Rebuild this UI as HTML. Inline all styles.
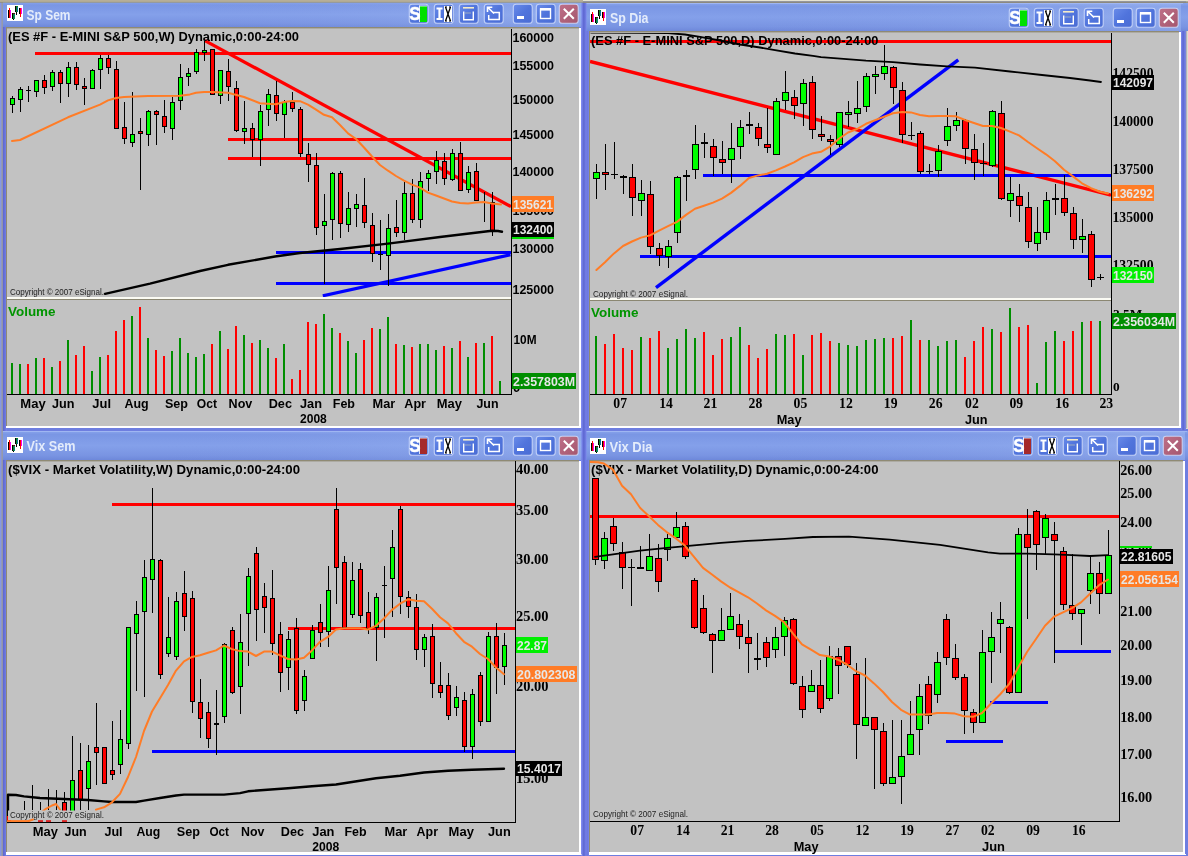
<!DOCTYPE html><html><head><meta charset="utf-8"><title>charts</title>
<style>html,body{margin:0;padding:0;background:#d6d2c6;overflow:hidden}svg{display:block;will-change:transform;transform:translateZ(0)}</style></head><body>
<svg width="1188" height="856" viewBox="0 0 1188 856">
<defs>
<linearGradient id="tb" x1="0" y1="0" x2="0" y2="1">
<stop offset="0" stop-color="#88a4ec"/><stop offset="0.12" stop-color="#7a96e4"/><stop offset="0.5" stop-color="#84a0ea"/><stop offset="0.85" stop-color="#7994e2"/><stop offset="1" stop-color="#6e88da"/>
</linearGradient>
<linearGradient id="tbh" x1="0" y1="0" x2="1" y2="0">
<stop offset="0" stop-color="#7f98e6" stop-opacity="0.0"/><stop offset="1" stop-color="#a8c0f4" stop-opacity="0.42"/>
</linearGradient>
<linearGradient id="btn" x1="0" y1="0" x2="1" y2="1">
<stop offset="0" stop-color="#6a8cea"/><stop offset="0.5" stop-color="#5074dc"/><stop offset="1" stop-color="#4a6cd4"/>
</linearGradient>
<linearGradient id="cls" x1="0" y1="0" x2="1" y2="1">
<stop offset="0" stop-color="#bf7088"/><stop offset="1" stop-color="#a4566e"/>
</linearGradient>
<linearGradient id="bv" x1="0" y1="0" x2="1" y2="0">
<stop offset="0" stop-color="#808cf0"/><stop offset="0.45" stop-color="#5c66d0"/><stop offset="1" stop-color="#7a86ec"/>
</linearGradient>
</defs>
<rect x="0" y="0" width="1188" height="856" fill="#6e7ee0" />
<rect x="1186" y="0" width="2" height="429" fill="#dcdad0" />
<rect x="1185.6" y="5" width="0.9" height="423" fill="#8c8c9c" />
<rect x="581" y="27" width="8.5" height="829" fill="url(#bv)" />
<rect x="0" y="0" width="7" height="856" fill="url(#bv)" />
<rect x="1181" y="30" width="4.6" height="400" fill="url(#bv)" />
<rect x="0" y="2" width="586" height="25" fill="url(#tb)" />
<rect x="157" y="2" width="424" height="25" fill="url(#tbh)" />
<rect x="3" y="2" width="580" height="1" fill="#9fb6f2" />
<g shape-rendering="crispEdges" transform="translate(7,5)">
<rect x="0" y="0" width="16" height="16" fill="#fff" />
<rect x="1" y="5" width="1" height="8" fill="#000" />
<rect x="2" y="3" width="1" height="10" fill="#f00" />
<rect x="3" y="5" width="1" height="8" fill="#f0e" />
<rect x="5" y="8" width="1" height="6" fill="#000" />
<rect x="6" y="8" width="2" height="6" fill="#0a8030" />
<rect x="7" y="9" width="1" height="5" fill="#088070" />
<rect x="6" y="8" width="2" height="1" fill="#601010" />
<rect x="6" y="14" width="1" height="1" fill="#000" />
<rect x="8" y="1" width="1" height="6" fill="#000" />
<rect x="9" y="1" width="2" height="6" fill="#0a8028" />
<rect x="10" y="2" width="1" height="5" fill="#0870a0" />
<rect x="9" y="7" width="1" height="3" fill="#000" />
<rect x="12" y="3" width="1" height="6" fill="#000" />
<rect x="13" y="3" width="1" height="9" fill="#f00" />
<rect x="14" y="3" width="1" height="6" fill="#f0e" />
</g>
<text x="26.5" y="19.5" font-family="Liberation Sans, sans-serif" font-size="14" font-weight="bold" fill="#e4ecfb" text-anchor="start" textLength="44" lengthAdjust="spacingAndGlyphs" >Sp Sem</text>
<rect x="409.3" y="4.3" width="18.9" height="18.9" rx="2.8" ry="2.8" fill="url(#btn)" stroke="#d4e0fb" stroke-opacity="0.8" stroke-width="1.1"/>
<rect x="420" y="6" width="7" height="16" fill="#00e000" shape-rendering="crispEdges"/>
<rect x="419" y="5.5" width="1" height="16.5" fill="#fff" opacity="0.8"/>
<rect x="419" y="5.5" width="8" height="1" fill="#fff" opacity="0.8"/>
<text x="409.2" y="20" font-family="Liberation Sans, sans-serif" font-size="18.6" font-weight="bold" fill="#fff" text-anchor="start" textLength="11.3" lengthAdjust="spacingAndGlyphs" stroke="#fff" stroke-width="0.5">S</text>
<rect x="434.3" y="4.3" width="18.9" height="18.9" rx="2.8" ry="2.8" fill="url(#btn)" stroke="#d4e0fb" stroke-opacity="0.8" stroke-width="1.1"/>
<rect x="444" y="6" width="8" height="16" fill="#fff" shape-rendering="crispEdges"/>
<path d="M445.5,7 L450.5,21 M450.5,7 L445.5,21" stroke="#000" stroke-width="1.3" fill="none"/>
<path d="M445,7h2 M449,7h2 M445,21h2 M449,21h2" stroke="#000" stroke-width="1"/>
<path d="M436.5,8.5h6 M436.5,19h6 M439.5,8v11" stroke="#fff" stroke-width="2.2" fill="none"/>
<rect x="459.3" y="4.3" width="18.9" height="18.9" rx="2.8" ry="2.8" fill="url(#btn)" stroke="#d4e0fb" stroke-opacity="0.8" stroke-width="1.1"/>
<path d="M463,7.8h11" stroke="#f4ecc8" stroke-width="1.6" fill="none"/>
<path d="M463.7,11.5v8.3h9.6v-8.3" stroke="#fff" stroke-width="1.4" fill="none"/>
<path d="M465.5,13h6" stroke="#e8e0a0" stroke-width="1" stroke-dasharray="1,1" fill="none"/>
<rect x="484.3" y="4.3" width="18.9" height="18.9" rx="2.8" ry="2.8" fill="url(#btn)" stroke="#d4e0fb" stroke-opacity="0.8" stroke-width="1.1"/>
<path d="M493,12.5h6.3v7h-10.6v-4.5" stroke="#fff" stroke-width="1.5" fill="none"/>
<path d="M488,7.5l6,6 M487.5,12v-4.8h4.8" stroke="#fff" stroke-width="1.6" fill="none"/>
<rect x="513.3" y="4.3" width="18.9" height="18.9" rx="2.8" ry="2.8" fill="url(#btn)" stroke="#d4e0fb" stroke-opacity="0.8" stroke-width="1.1"/>
<rect x="517" y="16" width="7" height="3" fill="#fff" />
<rect x="536.3" y="4.3" width="18.9" height="18.9" rx="2.8" ry="2.8" fill="url(#btn)" stroke="#d4e0fb" stroke-opacity="0.8" stroke-width="1.1"/>
<rect x="540.5" y="9" width="10" height="9.5" fill="none" stroke="#fff" stroke-width="1.4"/>
<rect x="540" y="8" width="11" height="2.6" fill="#fff" />
<rect x="559.3" y="4.3" width="18.9" height="18.9" rx="2.8" ry="2.8" fill="url(#cls)" stroke="#d4e0fb" stroke-opacity="0.8" stroke-width="1.1"/>
<path d="M563.8,8.8l10,10 M573.8,8.8l-10,10" stroke="#fff" stroke-width="2" stroke-linecap="butt" fill="none"/>
<rect x="6" y="28" width="575" height="400" fill="#fff" />
<rect x="6" y="27" width="573" height="399" fill="#8f8a74" />
<rect x="7" y="28.4" width="572" height="397.6" fill="#c2c2c2" />
<rect x="585" y="3" width="603" height="28" fill="url(#tb)" />
<rect x="740" y="3" width="441" height="28" fill="url(#tbh)" />
<rect x="586" y="3" width="597" height="1" fill="#9fb6f2" />
<g shape-rendering="crispEdges" transform="translate(590,9)">
<rect x="0" y="0" width="16" height="16" fill="#fff" />
<rect x="1" y="5" width="1" height="8" fill="#000" />
<rect x="2" y="3" width="1" height="10" fill="#f00" />
<rect x="3" y="5" width="1" height="8" fill="#f0e" />
<rect x="5" y="8" width="1" height="6" fill="#000" />
<rect x="6" y="8" width="2" height="6" fill="#0a8030" />
<rect x="7" y="9" width="1" height="5" fill="#088070" />
<rect x="6" y="8" width="2" height="1" fill="#601010" />
<rect x="6" y="14" width="1" height="1" fill="#000" />
<rect x="8" y="1" width="1" height="6" fill="#000" />
<rect x="9" y="1" width="2" height="6" fill="#0a8028" />
<rect x="10" y="2" width="1" height="5" fill="#0870a0" />
<rect x="9" y="7" width="1" height="3" fill="#000" />
<rect x="12" y="3" width="1" height="6" fill="#000" />
<rect x="13" y="3" width="1" height="9" fill="#f00" />
<rect x="14" y="3" width="1" height="6" fill="#f0e" />
</g>
<text x="610" y="22.8" font-family="Liberation Sans, sans-serif" font-size="14" font-weight="bold" fill="#e4ecfb" text-anchor="start" textLength="38.5" lengthAdjust="spacingAndGlyphs" >Sp Dia</text>
<rect x="1009.3" y="8.3" width="18.9" height="18.9" rx="2.8" ry="2.8" fill="url(#btn)" stroke="#d4e0fb" stroke-opacity="0.8" stroke-width="1.1"/>
<rect x="1020" y="10" width="7" height="16" fill="#00e000" shape-rendering="crispEdges"/>
<rect x="1019" y="9.5" width="1" height="16.5" fill="#fff" opacity="0.8"/>
<rect x="1019" y="9.5" width="8" height="1" fill="#fff" opacity="0.8"/>
<text x="1009.2" y="24" font-family="Liberation Sans, sans-serif" font-size="18.6" font-weight="bold" fill="#fff" text-anchor="start" textLength="11.3" lengthAdjust="spacingAndGlyphs" stroke="#fff" stroke-width="0.5">S</text>
<rect x="1034.3" y="8.3" width="18.9" height="18.9" rx="2.8" ry="2.8" fill="url(#btn)" stroke="#d4e0fb" stroke-opacity="0.8" stroke-width="1.1"/>
<rect x="1044" y="10" width="8" height="16" fill="#fff" shape-rendering="crispEdges"/>
<path d="M1045.5,11 L1050.5,25 M1050.5,11 L1045.5,25" stroke="#000" stroke-width="1.3" fill="none"/>
<path d="M1045,11h2 M1049,11h2 M1045,25h2 M1049,25h2" stroke="#000" stroke-width="1"/>
<path d="M1036.5,12.5h6 M1036.5,23h6 M1039.5,12v11" stroke="#fff" stroke-width="2.2" fill="none"/>
<rect x="1059.3" y="8.3" width="18.9" height="18.9" rx="2.8" ry="2.8" fill="url(#btn)" stroke="#d4e0fb" stroke-opacity="0.8" stroke-width="1.1"/>
<path d="M1063,11.8h11" stroke="#f4ecc8" stroke-width="1.6" fill="none"/>
<path d="M1063.7,15.5v8.3h9.6v-8.3" stroke="#fff" stroke-width="1.4" fill="none"/>
<path d="M1065.5,17h6" stroke="#e8e0a0" stroke-width="1" stroke-dasharray="1,1" fill="none"/>
<rect x="1084.3" y="8.3" width="18.9" height="18.9" rx="2.8" ry="2.8" fill="url(#btn)" stroke="#d4e0fb" stroke-opacity="0.8" stroke-width="1.1"/>
<path d="M1093,16.5h6.3v7h-10.6v-4.5" stroke="#fff" stroke-width="1.5" fill="none"/>
<path d="M1088,11.5l6,6 M1087.5,16v-4.8h4.8" stroke="#fff" stroke-width="1.6" fill="none"/>
<rect x="1113.3" y="8.3" width="18.9" height="18.9" rx="2.8" ry="2.8" fill="url(#btn)" stroke="#d4e0fb" stroke-opacity="0.8" stroke-width="1.1"/>
<rect x="1117" y="20" width="7" height="3" fill="#fff" />
<rect x="1136.3" y="8.3" width="18.9" height="18.9" rx="2.8" ry="2.8" fill="url(#btn)" stroke="#d4e0fb" stroke-opacity="0.8" stroke-width="1.1"/>
<rect x="1140.5" y="13" width="10" height="9.5" fill="none" stroke="#fff" stroke-width="1.4"/>
<rect x="1140" y="12" width="11" height="2.6" fill="#fff" />
<rect x="1159.3" y="8.3" width="18.9" height="18.9" rx="2.8" ry="2.8" fill="url(#cls)" stroke="#d4e0fb" stroke-opacity="0.8" stroke-width="1.1"/>
<path d="M1163.8,12.8l10,10 M1173.8,12.8l-10,10" stroke="#fff" stroke-width="2" stroke-linecap="butt" fill="none"/>
<rect x="589" y="32" width="592" height="396" fill="#fff" />
<rect x="589" y="31" width="590" height="395" fill="#8f8a74" />
<rect x="590" y="32.4" width="589" height="393.6" fill="#c2c2c2" />
<rect x="0" y="431" width="586" height="29" fill="url(#tb)" />
<rect x="157" y="431" width="424" height="29" fill="url(#tbh)" />
<rect x="3" y="431" width="580" height="1" fill="#9fb6f2" />
<g shape-rendering="crispEdges" transform="translate(7,437)">
<rect x="0" y="0" width="16" height="16" fill="#fff" />
<rect x="1" y="5" width="1" height="8" fill="#000" />
<rect x="2" y="3" width="1" height="10" fill="#f00" />
<rect x="3" y="5" width="1" height="8" fill="#f0e" />
<rect x="5" y="8" width="1" height="6" fill="#000" />
<rect x="6" y="8" width="2" height="6" fill="#0a8030" />
<rect x="7" y="9" width="1" height="5" fill="#088070" />
<rect x="6" y="8" width="2" height="1" fill="#601010" />
<rect x="6" y="14" width="1" height="1" fill="#000" />
<rect x="8" y="1" width="1" height="6" fill="#000" />
<rect x="9" y="1" width="2" height="6" fill="#0a8028" />
<rect x="10" y="2" width="1" height="5" fill="#0870a0" />
<rect x="9" y="7" width="1" height="3" fill="#000" />
<rect x="12" y="3" width="1" height="6" fill="#000" />
<rect x="13" y="3" width="1" height="9" fill="#f00" />
<rect x="14" y="3" width="1" height="6" fill="#f0e" />
</g>
<text x="26.5" y="451" font-family="Liberation Sans, sans-serif" font-size="14" font-weight="bold" fill="#e4ecfb" text-anchor="start" textLength="49" lengthAdjust="spacingAndGlyphs" >Vix Sem</text>
<rect x="409.3" y="436.3" width="18.9" height="18.9" rx="2.8" ry="2.8" fill="url(#btn)" stroke="#d4e0fb" stroke-opacity="0.8" stroke-width="1.1"/>
<rect x="420" y="438" width="7" height="16" fill="#a52a2a" shape-rendering="crispEdges"/>
<rect x="419" y="437.5" width="1" height="16.5" fill="#fff" opacity="0.8"/>
<rect x="419" y="437.5" width="8" height="1" fill="#fff" opacity="0.8"/>
<text x="409.2" y="452" font-family="Liberation Sans, sans-serif" font-size="18.6" font-weight="bold" fill="#fff" text-anchor="start" textLength="11.3" lengthAdjust="spacingAndGlyphs" stroke="#fff" stroke-width="0.5">S</text>
<rect x="434.3" y="436.3" width="18.9" height="18.9" rx="2.8" ry="2.8" fill="url(#btn)" stroke="#d4e0fb" stroke-opacity="0.8" stroke-width="1.1"/>
<rect x="444" y="438" width="8" height="16" fill="#fff" shape-rendering="crispEdges"/>
<path d="M445.5,439 L450.5,453 M450.5,439 L445.5,453" stroke="#000" stroke-width="1.3" fill="none"/>
<path d="M445,439h2 M449,439h2 M445,453h2 M449,453h2" stroke="#000" stroke-width="1"/>
<path d="M436.5,440.5h6 M436.5,451h6 M439.5,440v11" stroke="#fff" stroke-width="2.2" fill="none"/>
<rect x="459.3" y="436.3" width="18.9" height="18.9" rx="2.8" ry="2.8" fill="url(#btn)" stroke="#d4e0fb" stroke-opacity="0.8" stroke-width="1.1"/>
<path d="M463,439.8h11" stroke="#f4ecc8" stroke-width="1.6" fill="none"/>
<path d="M463.7,443.5v8.3h9.6v-8.3" stroke="#fff" stroke-width="1.4" fill="none"/>
<path d="M465.5,445h6" stroke="#e8e0a0" stroke-width="1" stroke-dasharray="1,1" fill="none"/>
<rect x="484.3" y="436.3" width="18.9" height="18.9" rx="2.8" ry="2.8" fill="url(#btn)" stroke="#d4e0fb" stroke-opacity="0.8" stroke-width="1.1"/>
<path d="M493,444.5h6.3v7h-10.6v-4.5" stroke="#fff" stroke-width="1.5" fill="none"/>
<path d="M488,439.5l6,6 M487.5,444v-4.8h4.8" stroke="#fff" stroke-width="1.6" fill="none"/>
<rect x="513.3" y="436.3" width="18.9" height="18.9" rx="2.8" ry="2.8" fill="url(#btn)" stroke="#d4e0fb" stroke-opacity="0.8" stroke-width="1.1"/>
<rect x="517" y="448" width="7" height="3" fill="#fff" />
<rect x="536.3" y="436.3" width="18.9" height="18.9" rx="2.8" ry="2.8" fill="url(#btn)" stroke="#d4e0fb" stroke-opacity="0.8" stroke-width="1.1"/>
<rect x="540.5" y="441" width="10" height="9.5" fill="none" stroke="#fff" stroke-width="1.4"/>
<rect x="540" y="440" width="11" height="2.6" fill="#fff" />
<rect x="559.3" y="436.3" width="18.9" height="18.9" rx="2.8" ry="2.8" fill="url(#cls)" stroke="#d4e0fb" stroke-opacity="0.8" stroke-width="1.1"/>
<path d="M563.8,440.8l10,10 M573.8,440.8l-10,10" stroke="#fff" stroke-width="2" stroke-linecap="butt" fill="none"/>
<rect x="6" y="461" width="575" height="393" fill="#fff" />
<rect x="6" y="460" width="573" height="392" fill="#8f8a74" />
<rect x="7" y="461.4" width="572" height="390.6" fill="#c2c2c2" />
<rect x="585" y="431" width="607" height="29" fill="url(#tb)" />
<rect x="740" y="431" width="445" height="29" fill="url(#tbh)" />
<rect x="586" y="431" width="601" height="1" fill="#9fb6f2" />
<g shape-rendering="crispEdges" transform="translate(590,438)">
<rect x="0" y="0" width="16" height="16" fill="#fff" />
<rect x="1" y="5" width="1" height="8" fill="#000" />
<rect x="2" y="3" width="1" height="10" fill="#f00" />
<rect x="3" y="5" width="1" height="8" fill="#f0e" />
<rect x="5" y="8" width="1" height="6" fill="#000" />
<rect x="6" y="8" width="2" height="6" fill="#0a8030" />
<rect x="7" y="9" width="1" height="5" fill="#088070" />
<rect x="6" y="8" width="2" height="1" fill="#601010" />
<rect x="6" y="14" width="1" height="1" fill="#000" />
<rect x="8" y="1" width="1" height="6" fill="#000" />
<rect x="9" y="1" width="2" height="6" fill="#0a8028" />
<rect x="10" y="2" width="1" height="5" fill="#0870a0" />
<rect x="9" y="7" width="1" height="3" fill="#000" />
<rect x="12" y="3" width="1" height="6" fill="#000" />
<rect x="13" y="3" width="1" height="9" fill="#f00" />
<rect x="14" y="3" width="1" height="6" fill="#f0e" />
</g>
<text x="609.5" y="452" font-family="Liberation Sans, sans-serif" font-size="14" font-weight="bold" fill="#e4ecfb" text-anchor="start" textLength="43" lengthAdjust="spacingAndGlyphs" >Vix Dia</text>
<rect x="1013.3" y="436.3" width="18.9" height="18.9" rx="2.8" ry="2.8" fill="url(#btn)" stroke="#d4e0fb" stroke-opacity="0.8" stroke-width="1.1"/>
<rect x="1024" y="438" width="7" height="16" fill="#a52a2a" shape-rendering="crispEdges"/>
<rect x="1023" y="437.5" width="1" height="16.5" fill="#fff" opacity="0.8"/>
<rect x="1023" y="437.5" width="8" height="1" fill="#fff" opacity="0.8"/>
<text x="1013.2" y="452" font-family="Liberation Sans, sans-serif" font-size="18.6" font-weight="bold" fill="#fff" text-anchor="start" textLength="11.3" lengthAdjust="spacingAndGlyphs" stroke="#fff" stroke-width="0.5">S</text>
<rect x="1038.3" y="436.3" width="18.9" height="18.9" rx="2.8" ry="2.8" fill="url(#btn)" stroke="#d4e0fb" stroke-opacity="0.8" stroke-width="1.1"/>
<rect x="1048" y="438" width="8" height="16" fill="#fff" shape-rendering="crispEdges"/>
<path d="M1049.5,439 L1054.5,453 M1054.5,439 L1049.5,453" stroke="#000" stroke-width="1.3" fill="none"/>
<path d="M1049,439h2 M1053,439h2 M1049,453h2 M1053,453h2" stroke="#000" stroke-width="1"/>
<path d="M1040.5,440.5h6 M1040.5,451h6 M1043.5,440v11" stroke="#fff" stroke-width="2.2" fill="none"/>
<rect x="1063.3" y="436.3" width="18.9" height="18.9" rx="2.8" ry="2.8" fill="url(#btn)" stroke="#d4e0fb" stroke-opacity="0.8" stroke-width="1.1"/>
<path d="M1067,439.8h11" stroke="#f4ecc8" stroke-width="1.6" fill="none"/>
<path d="M1067.7,443.5v8.3h9.6v-8.3" stroke="#fff" stroke-width="1.4" fill="none"/>
<path d="M1069.5,445h6" stroke="#e8e0a0" stroke-width="1" stroke-dasharray="1,1" fill="none"/>
<rect x="1088.3" y="436.3" width="18.9" height="18.9" rx="2.8" ry="2.8" fill="url(#btn)" stroke="#d4e0fb" stroke-opacity="0.8" stroke-width="1.1"/>
<path d="M1097,444.5h6.3v7h-10.6v-4.5" stroke="#fff" stroke-width="1.5" fill="none"/>
<path d="M1092,439.5l6,6 M1091.5,444v-4.8h4.8" stroke="#fff" stroke-width="1.6" fill="none"/>
<rect x="1117.3" y="436.3" width="18.9" height="18.9" rx="2.8" ry="2.8" fill="url(#btn)" stroke="#d4e0fb" stroke-opacity="0.8" stroke-width="1.1"/>
<rect x="1121" y="448" width="7" height="3" fill="#fff" />
<rect x="1140.3" y="436.3" width="18.9" height="18.9" rx="2.8" ry="2.8" fill="url(#btn)" stroke="#d4e0fb" stroke-opacity="0.8" stroke-width="1.1"/>
<rect x="1144.5" y="441" width="10" height="9.5" fill="none" stroke="#fff" stroke-width="1.4"/>
<rect x="1144" y="440" width="11" height="2.6" fill="#fff" />
<rect x="1163.3" y="436.3" width="18.9" height="18.9" rx="2.8" ry="2.8" fill="url(#cls)" stroke="#d4e0fb" stroke-opacity="0.8" stroke-width="1.1"/>
<path d="M1167.8,440.8l10,10 M1177.8,440.8l-10,10" stroke="#fff" stroke-width="2" stroke-linecap="butt" fill="none"/>
<rect x="589" y="461" width="596" height="393" fill="#fff" />
<rect x="589" y="460" width="594" height="392" fill="#8f8a74" />
<rect x="590" y="461.4" width="593" height="390.6" fill="#c2c2c2" />
<g id="tl">
<rect x="7" y="297" width="504" height="2" fill="#fbfbf4" shape-rendering="crispEdges"/>
<rect x="7" y="299" width="504" height="1" fill="#8b8772" shape-rendering="crispEdges"/>
<rect x="35" y="52" width="476" height="3" fill="#ff0000" shape-rendering="crispEdges"/>
<rect x="228" y="138" width="283" height="3" fill="#ff0000" shape-rendering="crispEdges"/>
<rect x="228" y="157" width="283" height="3" fill="#ff0000" shape-rendering="crispEdges"/>
<rect x="276" y="251" width="235" height="3" fill="#0000ff" shape-rendering="crispEdges"/>
<rect x="276" y="282" width="235" height="3" fill="#0000ff" shape-rendering="crispEdges"/>
<clipPath id="ctl"><rect x="7" y="29" width="504" height="268"/></clipPath>
<line x1="322.8" y1="295.8" x2="510.5" y2="254.7" stroke="#0000ff" stroke-width="3.2" clip-path="url(#ctl)"/>
<line x1="204.9" y1="40.6" x2="511" y2="206.6" stroke="#ff0000" stroke-width="3.3" clip-path="url(#ctl)"/>
<g shape-rendering="crispEdges">
<rect x="12" y="96" width="1" height="17" fill="#000" />
<rect x="10" y="98" width="5" height="7" fill="#000" />
<rect x="11" y="99" width="3" height="5" fill="#00ff00" />
<rect x="20" y="87" width="1" height="25" fill="#000" />
<rect x="18" y="89" width="5" height="11" fill="#000" />
<rect x="19" y="90" width="3" height="9" fill="#00ff00" />
<rect x="28" y="86" width="1" height="16" fill="#000" />
<rect x="26" y="90" width="5" height="1" fill="#000" />
<rect x="36" y="80" width="1" height="17" fill="#000" />
<rect x="34" y="80" width="5" height="12" fill="#000" />
<rect x="35" y="81" width="3" height="10" fill="#00ff00" />
<rect x="44" y="75" width="1" height="19" fill="#000" />
<rect x="42" y="80" width="5" height="8" fill="#000" />
<rect x="43" y="81" width="3" height="6" fill="#ff0000" />
<rect x="52" y="70" width="1" height="21" fill="#000" />
<rect x="50" y="72" width="5" height="15" fill="#000" />
<rect x="51" y="73" width="3" height="13" fill="#00ff00" />
<rect x="60" y="70" width="1" height="33" fill="#000" />
<rect x="58" y="72" width="5" height="12" fill="#000" />
<rect x="59" y="73" width="3" height="10" fill="#ff0000" />
<rect x="68" y="62" width="1" height="35" fill="#000" />
<rect x="66" y="67" width="5" height="17" fill="#000" />
<rect x="67" y="68" width="3" height="15" fill="#00ff00" />
<rect x="76" y="62" width="1" height="28" fill="#000" />
<rect x="74" y="67" width="5" height="18" fill="#000" />
<rect x="75" y="68" width="3" height="16" fill="#ff0000" />
<rect x="84" y="78" width="1" height="27" fill="#000" />
<rect x="82" y="86" width="5" height="3" fill="#000" />
<rect x="83" y="87" width="3" height="1" fill="#ff0000" />
<rect x="92" y="69" width="1" height="19" fill="#000" />
<rect x="90" y="70" width="5" height="19" fill="#000" />
<rect x="91" y="71" width="3" height="17" fill="#00ff00" />
<rect x="100" y="55" width="1" height="34" fill="#000" />
<rect x="98" y="58" width="5" height="12" fill="#000" />
<rect x="99" y="59" width="3" height="10" fill="#00ff00" />
<rect x="108" y="55" width="1" height="19" fill="#000" />
<rect x="106" y="58" width="5" height="10" fill="#000" />
<rect x="107" y="59" width="3" height="8" fill="#ff0000" />
<rect x="116" y="61" width="1" height="67" fill="#000" />
<rect x="114" y="69" width="5" height="60" fill="#000" />
<rect x="115" y="70" width="3" height="58" fill="#ff0000" />
<rect x="124" y="102" width="1" height="42" fill="#000" />
<rect x="122" y="127" width="5" height="12" fill="#000" />
<rect x="123" y="128" width="3" height="10" fill="#ff0000" />
<rect x="132" y="92" width="1" height="55" fill="#000" />
<rect x="130" y="134" width="5" height="9" fill="#000" />
<rect x="131" y="135" width="3" height="7" fill="#00ff00" />
<rect x="140" y="118" width="1" height="72" fill="#000" />
<rect x="138" y="131" width="5" height="3" fill="#000" />
<rect x="139" y="132" width="3" height="1" fill="#ff0000" />
<rect x="148" y="110" width="1" height="36" fill="#000" />
<rect x="146" y="111" width="5" height="24" fill="#000" />
<rect x="147" y="112" width="3" height="22" fill="#00ff00" />
<rect x="156" y="110" width="1" height="35" fill="#000" />
<rect x="154" y="111" width="5" height="4" fill="#000" />
<rect x="155" y="112" width="3" height="2" fill="#ff0000" />
<rect x="164" y="100" width="1" height="33" fill="#000" />
<rect x="162" y="116" width="5" height="11" fill="#000" />
<rect x="163" y="117" width="3" height="9" fill="#ff0000" />
<rect x="172" y="97" width="1" height="43" fill="#000" />
<rect x="170" y="102" width="5" height="27" fill="#000" />
<rect x="171" y="103" width="3" height="25" fill="#00ff00" />
<rect x="180" y="64" width="1" height="46" fill="#000" />
<rect x="178" y="77" width="5" height="24" fill="#000" />
<rect x="179" y="78" width="3" height="22" fill="#00ff00" />
<rect x="188" y="68" width="1" height="18" fill="#000" />
<rect x="186" y="73" width="5" height="4" fill="#000" />
<rect x="187" y="74" width="3" height="2" fill="#00ff00" />
<rect x="196" y="49" width="1" height="25" fill="#000" />
<rect x="194" y="52" width="5" height="20" fill="#000" />
<rect x="195" y="53" width="3" height="18" fill="#00ff00" />
<rect x="204" y="41" width="1" height="20" fill="#000" />
<rect x="202" y="50" width="5" height="3" fill="#000" />
<rect x="203" y="51" width="3" height="1" fill="#00ff00" />
<rect x="212" y="49" width="1" height="46" fill="#000" />
<rect x="210" y="49" width="5" height="46" fill="#000" />
<rect x="211" y="50" width="3" height="44" fill="#ff0000" />
<rect x="220" y="70" width="1" height="34" fill="#000" />
<rect x="218" y="70" width="5" height="26" fill="#000" />
<rect x="219" y="71" width="3" height="24" fill="#00ff00" />
<rect x="228" y="59" width="1" height="42" fill="#000" />
<rect x="226" y="71" width="5" height="16" fill="#000" />
<rect x="227" y="72" width="3" height="14" fill="#ff0000" />
<rect x="236" y="81" width="1" height="51" fill="#000" />
<rect x="234" y="88" width="5" height="43" fill="#000" />
<rect x="235" y="89" width="3" height="41" fill="#ff0000" />
<rect x="244" y="101" width="1" height="43" fill="#000" />
<rect x="242" y="128" width="5" height="4" fill="#000" />
<rect x="243" y="129" width="3" height="2" fill="#00ff00" />
<rect x="252" y="123" width="1" height="34" fill="#000" />
<rect x="250" y="128" width="5" height="12" fill="#000" />
<rect x="251" y="129" width="3" height="10" fill="#ff0000" />
<rect x="260" y="105" width="1" height="61" fill="#000" />
<rect x="258" y="111" width="5" height="29" fill="#000" />
<rect x="259" y="112" width="3" height="27" fill="#00ff00" />
<rect x="268" y="89" width="1" height="37" fill="#000" />
<rect x="266" y="94" width="5" height="16" fill="#000" />
<rect x="267" y="95" width="3" height="14" fill="#00ff00" />
<rect x="276" y="81" width="1" height="40" fill="#000" />
<rect x="274" y="95" width="5" height="19" fill="#000" />
<rect x="275" y="96" width="3" height="17" fill="#ff0000" />
<rect x="284" y="100" width="1" height="38" fill="#000" />
<rect x="282" y="102" width="5" height="13" fill="#000" />
<rect x="283" y="103" width="3" height="11" fill="#00ff00" />
<rect x="292" y="92" width="1" height="20" fill="#000" />
<rect x="290" y="102" width="5" height="7" fill="#000" />
<rect x="291" y="103" width="3" height="5" fill="#ff0000" />
<rect x="300" y="107" width="1" height="50" fill="#000" />
<rect x="298" y="109" width="5" height="45" fill="#000" />
<rect x="299" y="110" width="3" height="43" fill="#ff0000" />
<rect x="308" y="143" width="1" height="39" fill="#000" />
<rect x="306" y="154" width="5" height="11" fill="#000" />
<rect x="307" y="155" width="3" height="9" fill="#ff0000" />
<rect x="316" y="153" width="1" height="82" fill="#000" />
<rect x="314" y="165" width="5" height="63" fill="#000" />
<rect x="315" y="166" width="3" height="61" fill="#ff0000" />
<rect x="324" y="194" width="1" height="90" fill="#000" />
<rect x="322" y="221" width="5" height="5" fill="#000" />
<rect x="323" y="222" width="3" height="3" fill="#00ff00" />
<rect x="332" y="172" width="1" height="68" fill="#000" />
<rect x="330" y="173" width="5" height="47" fill="#000" />
<rect x="331" y="174" width="3" height="45" fill="#00ff00" />
<rect x="340" y="171" width="1" height="67" fill="#000" />
<rect x="338" y="173" width="5" height="51" fill="#000" />
<rect x="339" y="174" width="3" height="49" fill="#ff0000" />
<rect x="348" y="192" width="1" height="40" fill="#000" />
<rect x="346" y="208" width="5" height="17" fill="#000" />
<rect x="347" y="209" width="3" height="15" fill="#00ff00" />
<rect x="356" y="194" width="1" height="33" fill="#000" />
<rect x="354" y="204" width="5" height="5" fill="#000" />
<rect x="355" y="205" width="3" height="3" fill="#00ff00" />
<rect x="364" y="178" width="1" height="50" fill="#000" />
<rect x="362" y="205" width="5" height="18" fill="#000" />
<rect x="363" y="206" width="3" height="16" fill="#ff0000" />
<rect x="372" y="213" width="1" height="49" fill="#000" />
<rect x="370" y="225" width="5" height="29" fill="#000" />
<rect x="371" y="226" width="3" height="27" fill="#ff0000" />
<rect x="380" y="220" width="1" height="50" fill="#000" />
<rect x="378" y="254" width="5" height="1" fill="#000" />
<rect x="388" y="214" width="1" height="72" fill="#000" />
<rect x="386" y="228" width="5" height="28" fill="#000" />
<rect x="387" y="229" width="3" height="26" fill="#00ff00" />
<rect x="396" y="200" width="1" height="37" fill="#000" />
<rect x="394" y="227" width="5" height="6" fill="#000" />
<rect x="395" y="228" width="3" height="4" fill="#ff0000" />
<rect x="404" y="182" width="1" height="58" fill="#000" />
<rect x="402" y="193" width="5" height="40" fill="#000" />
<rect x="403" y="194" width="3" height="38" fill="#00ff00" />
<rect x="412" y="179" width="1" height="44" fill="#000" />
<rect x="410" y="193" width="5" height="27" fill="#000" />
<rect x="411" y="194" width="3" height="25" fill="#ff0000" />
<rect x="420" y="172" width="1" height="56" fill="#000" />
<rect x="418" y="181" width="5" height="39" fill="#000" />
<rect x="419" y="182" width="3" height="37" fill="#00ff00" />
<rect x="428" y="170" width="1" height="21" fill="#000" />
<rect x="426" y="173" width="5" height="6" fill="#000" />
<rect x="427" y="174" width="3" height="4" fill="#00ff00" />
<rect x="436" y="151" width="1" height="33" fill="#000" />
<rect x="434" y="160" width="5" height="12" fill="#000" />
<rect x="435" y="161" width="3" height="10" fill="#00ff00" />
<rect x="444" y="153" width="1" height="32" fill="#000" />
<rect x="442" y="161" width="5" height="18" fill="#000" />
<rect x="443" y="162" width="3" height="16" fill="#ff0000" />
<rect x="452" y="149" width="1" height="32" fill="#000" />
<rect x="450" y="153" width="5" height="27" fill="#000" />
<rect x="451" y="154" width="3" height="25" fill="#00ff00" />
<rect x="460" y="142" width="1" height="48" fill="#000" />
<rect x="458" y="153" width="5" height="38" fill="#000" />
<rect x="459" y="154" width="3" height="36" fill="#ff0000" />
<rect x="468" y="166" width="1" height="27" fill="#000" />
<rect x="466" y="172" width="5" height="18" fill="#000" />
<rect x="467" y="173" width="3" height="16" fill="#00ff00" />
<rect x="476" y="163" width="1" height="37" fill="#000" />
<rect x="474" y="171" width="5" height="30" fill="#000" />
<rect x="475" y="172" width="3" height="28" fill="#ff0000" />
<rect x="484" y="192" width="1" height="30" fill="#000" />
<rect x="492" y="192" width="1" height="44" fill="#000" />
<rect x="490" y="202" width="5" height="29" fill="#000" />
<rect x="491" y="203" width="3" height="27" fill="#ff0000" />
</g>
<polyline points="105,293.8 150,283.7 200,271 228,264.8 275,256.5 300,253 340,249 388,243.6 440,237 492,230.7 498,231 502,231.8" fill="none" stroke="#000" stroke-width="2.4" stroke-linejoin="round" stroke-linecap="round" />
<polyline points="12,141 20,140 68,117.3 100,104.6 108,100.4 116,98 124,97 148,96 180,95.8 190,94.4 196,92.7 204,91.9 212,92 228,92.7 244,97 260,103.2 276,104.2 284,102 292,100.9 300,101.2 308,104.6 316,109.7 324,114.8 332,117.3 340,125 348,133.4 356,139 364,147.5 372,156.5 380,165 388,170.7 396,176 404,180.6 412,184.6 420,187.6 428,192.6 436,195.5 444,198.5 452,201.5 460,203.1 468,203.5 476,202.5 484,201.9 492,203.5 501,204.5" fill="none" stroke="#ff7c26" stroke-width="2" stroke-linejoin="round" stroke-linecap="round" />
<text x="8" y="41.3" font-family="Liberation Sans, sans-serif" font-size="12.3" font-weight="bold" fill="#000" text-anchor="start" textLength="291" lengthAdjust="spacingAndGlyphs" >(ES #F - E-MINI S&amp;P 500,W) Dynamic,0:00-24:00</text>
<text x="10" y="295" font-family="Liberation Sans, sans-serif" font-size="8.6" font-weight="normal" fill="#222" text-anchor="start" textLength="94" lengthAdjust="spacingAndGlyphs" >Copyright © 2007 eSignal.</text>
<rect x="511" y="29" width="1" height="366" fill="#000" shape-rendering="crispEdges"/>
<text x="512.5" y="41.8" font-family="Liberation Sans, sans-serif" font-size="13.3" font-weight="bold" fill="#000" text-anchor="start" textLength="41.5" lengthAdjust="spacingAndGlyphs" >160000</text>
<text x="512.5" y="70" font-family="Liberation Sans, sans-serif" font-size="13.3" font-weight="bold" fill="#000" text-anchor="start" textLength="41.5" lengthAdjust="spacingAndGlyphs" >155000</text>
<text x="512.5" y="103.8" font-family="Liberation Sans, sans-serif" font-size="13.3" font-weight="bold" fill="#000" text-anchor="start" textLength="41.5" lengthAdjust="spacingAndGlyphs" >150000</text>
<text x="512.5" y="138.8" font-family="Liberation Sans, sans-serif" font-size="13.3" font-weight="bold" fill="#000" text-anchor="start" textLength="41.5" lengthAdjust="spacingAndGlyphs" >145000</text>
<text x="512.5" y="175.8" font-family="Liberation Sans, sans-serif" font-size="13.3" font-weight="bold" fill="#000" text-anchor="start" textLength="41.5" lengthAdjust="spacingAndGlyphs" >140000</text>
<text x="512.5" y="214.8" font-family="Liberation Sans, sans-serif" font-size="13.3" font-weight="bold" fill="#000" text-anchor="start" textLength="41.5" lengthAdjust="spacingAndGlyphs" >135000</text>
<text x="512.5" y="252.8" font-family="Liberation Sans, sans-serif" font-size="13.3" font-weight="bold" fill="#000" text-anchor="start" textLength="41.5" lengthAdjust="spacingAndGlyphs" >130000</text>
<text x="512.5" y="293.6" font-family="Liberation Sans, sans-serif" font-size="13.3" font-weight="bold" fill="#000" text-anchor="start" textLength="41.5" lengthAdjust="spacingAndGlyphs" >125000</text>
<rect x="512" y="196" width="42" height="16" fill="#ff7c26" shape-rendering="crispEdges"/>
<text x="513" y="209" font-family="Liberation Sans, sans-serif" font-size="13" font-weight="bold" fill="#e6e6e6" text-anchor="start" textLength="40" lengthAdjust="spacingAndGlyphs" >135621</text>
<rect x="512" y="222" width="42" height="15" fill="#000" shape-rendering="crispEdges"/>
<text x="513" y="234" font-family="Liberation Sans, sans-serif" font-size="13" font-weight="bold" fill="#e6e6e6" text-anchor="start" textLength="40" lengthAdjust="spacingAndGlyphs" >132400</text>
<rect x="512" y="237" width="42" height="2" fill="#00e000" shape-rendering="crispEdges"/>
<text x="8" y="316.2" font-family="Liberation Sans, sans-serif" font-size="13.2" font-weight="bold" fill="#009400" text-anchor="start" textLength="47.5" lengthAdjust="spacingAndGlyphs" >Volume</text>
<g shape-rendering="crispEdges">
<rect x="11" y="363" width="2" height="31" fill="#008e00" />
<rect x="19" y="364" width="2" height="30" fill="#008e00" />
<rect x="27" y="364" width="2" height="30" fill="#ff0000" />
<rect x="35" y="358" width="2" height="36" fill="#008e00" />
<rect x="43" y="358" width="2" height="36" fill="#ff0000" />
<rect x="51" y="367" width="2" height="27" fill="#008e00" />
<rect x="59" y="361" width="2" height="33" fill="#ff0000" />
<rect x="67" y="340" width="2" height="54" fill="#008e00" />
<rect x="75" y="355" width="2" height="39" fill="#ff0000" />
<rect x="83" y="346" width="2" height="48" fill="#ff0000" />
<rect x="91" y="371" width="2" height="23" fill="#008e00" />
<rect x="99" y="357" width="2" height="37" fill="#008e00" />
<rect x="107" y="355" width="2" height="39" fill="#ff0000" />
<rect x="115" y="331" width="2" height="63" fill="#ff0000" />
<rect x="123" y="320" width="2" height="74" fill="#ff0000" />
<rect x="131" y="316" width="2" height="78" fill="#008e00" />
<rect x="139" y="307" width="2" height="87" fill="#ff0000" />
<rect x="147" y="338" width="2" height="56" fill="#008e00" />
<rect x="155" y="350" width="2" height="44" fill="#ff0000" />
<rect x="163" y="356" width="2" height="38" fill="#ff0000" />
<rect x="171" y="351" width="2" height="43" fill="#008e00" />
<rect x="179" y="338" width="2" height="56" fill="#008e00" />
<rect x="187" y="353" width="2" height="41" fill="#008e00" />
<rect x="195" y="357" width="2" height="37" fill="#008e00" />
<rect x="203" y="354" width="2" height="40" fill="#008e00" />
<rect x="211" y="344" width="2" height="50" fill="#ff0000" />
<rect x="219" y="331" width="2" height="63" fill="#008e00" />
<rect x="227" y="349" width="2" height="45" fill="#ff0000" />
<rect x="235" y="326" width="2" height="68" fill="#ff0000" />
<rect x="243" y="335" width="2" height="59" fill="#008e00" />
<rect x="251" y="343" width="2" height="51" fill="#ff0000" />
<rect x="259" y="340" width="2" height="54" fill="#008e00" />
<rect x="267" y="348" width="2" height="46" fill="#008e00" />
<rect x="275" y="358" width="2" height="36" fill="#ff0000" />
<rect x="283" y="344" width="2" height="50" fill="#008e00" />
<rect x="291" y="379" width="2" height="15" fill="#ff0000" />
<rect x="299" y="370" width="2" height="24" fill="#ff0000" />
<rect x="307" y="322" width="2" height="72" fill="#ff0000" />
<rect x="315" y="324" width="2" height="70" fill="#ff0000" />
<rect x="323" y="314" width="2" height="80" fill="#008e00" />
<rect x="331" y="328" width="2" height="66" fill="#008e00" />
<rect x="339" y="333" width="2" height="61" fill="#ff0000" />
<rect x="347" y="341" width="2" height="53" fill="#008e00" />
<rect x="355" y="353" width="2" height="41" fill="#008e00" />
<rect x="363" y="340" width="2" height="54" fill="#ff0000" />
<rect x="371" y="328" width="2" height="66" fill="#ff0000" />
<rect x="379" y="329" width="2" height="65" fill="#008e00" />
<rect x="387" y="317" width="2" height="77" fill="#008e00" />
<rect x="395" y="344" width="2" height="50" fill="#ff0000" />
<rect x="403" y="345" width="2" height="49" fill="#008e00" />
<rect x="411" y="347" width="2" height="47" fill="#ff0000" />
<rect x="419" y="344" width="2" height="50" fill="#008e00" />
<rect x="427" y="344" width="2" height="50" fill="#008e00" />
<rect x="435" y="350" width="2" height="44" fill="#008e00" />
<rect x="443" y="346" width="2" height="48" fill="#ff0000" />
<rect x="451" y="348" width="2" height="46" fill="#008e00" />
<rect x="459" y="341" width="2" height="53" fill="#ff0000" />
<rect x="467" y="357" width="2" height="37" fill="#008e00" />
<rect x="475" y="343" width="2" height="51" fill="#ff0000" />
<rect x="483" y="343" width="2" height="51" fill="#008e00" />
<rect x="491" y="336" width="2" height="58" fill="#ff0000" />
<rect x="499" y="381" width="2" height="13" fill="#008e00" />
</g>
<rect x="7" y="394" width="505" height="1" fill="#000" shape-rendering="crispEdges"/>
<text x="513.5" y="343.7" font-family="Liberation Sans, sans-serif" font-size="13" font-weight="bold" fill="#000" text-anchor="start" textLength="23" lengthAdjust="spacingAndGlyphs" >10M</text>
<text x="513" y="391.5" font-family="Liberation Sans, sans-serif" font-size="13" font-weight="bold" fill="#000" text-anchor="start" >0</text>
<rect x="512" y="373" width="64" height="16" fill="#008e00" shape-rendering="crispEdges"/>
<text x="513" y="386" font-family="Liberation Sans, sans-serif" font-size="13" font-weight="bold" fill="#e6e6e6" text-anchor="start" textLength="62" lengthAdjust="spacingAndGlyphs" >2.357803M</text>
<text x="20.3" y="407.8" font-family="Liberation Sans, sans-serif" font-size="13" font-weight="bold" fill="#000" text-anchor="start" textLength="25.4" lengthAdjust="spacingAndGlyphs" >May</text>
<text x="52" y="407.8" font-family="Liberation Sans, sans-serif" font-size="13" font-weight="bold" fill="#000" text-anchor="start" textLength="22.5" lengthAdjust="spacingAndGlyphs" >Jun</text>
<text x="92.3" y="407.8" font-family="Liberation Sans, sans-serif" font-size="13" font-weight="bold" fill="#000" text-anchor="start" textLength="18.7" lengthAdjust="spacingAndGlyphs" >Jul</text>
<text x="124.5" y="407.8" font-family="Liberation Sans, sans-serif" font-size="13" font-weight="bold" fill="#000" text-anchor="start" textLength="24.2" lengthAdjust="spacingAndGlyphs" >Aug</text>
<text x="165" y="407.8" font-family="Liberation Sans, sans-serif" font-size="13" font-weight="bold" fill="#000" text-anchor="start" textLength="23" lengthAdjust="spacingAndGlyphs" >Sep</text>
<text x="196.8" y="407.8" font-family="Liberation Sans, sans-serif" font-size="13" font-weight="bold" fill="#000" text-anchor="start" textLength="20.2" lengthAdjust="spacingAndGlyphs" >Oct</text>
<text x="228.6" y="407.8" font-family="Liberation Sans, sans-serif" font-size="13" font-weight="bold" fill="#000" text-anchor="start" textLength="23.7" lengthAdjust="spacingAndGlyphs" >Nov</text>
<text x="268.7" y="407.8" font-family="Liberation Sans, sans-serif" font-size="13" font-weight="bold" fill="#000" text-anchor="start" textLength="23.3" lengthAdjust="spacingAndGlyphs" >Dec</text>
<text x="300" y="407.8" font-family="Liberation Sans, sans-serif" font-size="13" font-weight="bold" fill="#000" text-anchor="start" textLength="22" lengthAdjust="spacingAndGlyphs" >Jan</text>
<text x="332.8" y="407.8" font-family="Liberation Sans, sans-serif" font-size="13" font-weight="bold" fill="#000" text-anchor="start" textLength="22.2" lengthAdjust="spacingAndGlyphs" >Feb</text>
<text x="372.6" y="407.8" font-family="Liberation Sans, sans-serif" font-size="13" font-weight="bold" fill="#000" text-anchor="start" textLength="22.7" lengthAdjust="spacingAndGlyphs" >Mar</text>
<text x="404.3" y="407.8" font-family="Liberation Sans, sans-serif" font-size="13" font-weight="bold" fill="#000" text-anchor="start" textLength="21.7" lengthAdjust="spacingAndGlyphs" >Apr</text>
<text x="436.8" y="407.8" font-family="Liberation Sans, sans-serif" font-size="13" font-weight="bold" fill="#000" text-anchor="start" textLength="25.2" lengthAdjust="spacingAndGlyphs" >May</text>
<text x="476.4" y="407.8" font-family="Liberation Sans, sans-serif" font-size="13" font-weight="bold" fill="#000" text-anchor="start" textLength="22.1" lengthAdjust="spacingAndGlyphs" >Jun</text>
<text x="300" y="423" font-family="Liberation Sans, sans-serif" font-size="13" font-weight="bold" fill="#000" text-anchor="start" textLength="26.8" lengthAdjust="spacingAndGlyphs" >2008</text>
</g>
<g id="tr">
<rect x="590" y="298" width="521" height="2" fill="#fbfbf4" shape-rendering="crispEdges"/>
<rect x="590" y="300" width="521" height="1" fill="#8b8772" shape-rendering="crispEdges"/>
<clipPath id="ctr"><rect x="590" y="33" width="521" height="265"/></clipPath>
<rect x="590" y="40" width="521" height="3" fill="#ff0000" shape-rendering="crispEdges"/>
<text x="591" y="45.3" font-family="Liberation Sans, sans-serif" font-size="12.3" font-weight="bold" fill="#000" text-anchor="start" textLength="287.5" lengthAdjust="spacingAndGlyphs" >(ES #F - E-MINI S&amp;P 500,D) Dynamic,0:00-24:00</text>
<line x1="590" y1="61.4" x2="1111" y2="195.2" stroke="#ff0000" stroke-width="3.4" clip-path="url(#ctr)"/>
<line x1="656" y1="287.6" x2="958.3" y2="59.8" stroke="#0000ff" stroke-width="3.4" clip-path="url(#ctr)"/>
<rect x="703" y="174" width="408" height="3" fill="#0000ff" shape-rendering="crispEdges"/>
<rect x="640" y="255" width="471" height="3" fill="#0000ff" shape-rendering="crispEdges"/>
<g shape-rendering="crispEdges">
<rect x="596" y="164" width="1" height="35" fill="#000" />
<rect x="593" y="172" width="7" height="7" fill="#000" />
<rect x="594" y="173" width="5" height="5" fill="#00ff00" />
<rect x="605" y="144" width="1" height="46" fill="#000" />
<rect x="602" y="172" width="7" height="3" fill="#000" />
<rect x="603" y="173" width="5" height="1" fill="#ff0000" />
<rect x="614" y="142" width="1" height="37" fill="#000" />
<rect x="611" y="174" width="7" height="1" fill="#000" />
<rect x="623" y="175" width="1" height="19" fill="#000" />
<rect x="620" y="176" width="7" height="2" fill="#000" />
<rect x="632" y="164" width="1" height="52" fill="#000" />
<rect x="629" y="177" width="7" height="21" fill="#000" />
<rect x="630" y="178" width="5" height="19" fill="#ff0000" />
<rect x="641" y="180" width="1" height="36" fill="#000" />
<rect x="638" y="193" width="7" height="8" fill="#000" />
<rect x="639" y="194" width="5" height="6" fill="#00ff00" />
<rect x="650" y="181" width="1" height="73" fill="#000" />
<rect x="647" y="194" width="7" height="53" fill="#000" />
<rect x="648" y="195" width="5" height="51" fill="#ff0000" />
<rect x="659" y="243" width="1" height="23" fill="#000" />
<rect x="656" y="248" width="7" height="8" fill="#000" />
<rect x="657" y="249" width="5" height="6" fill="#ff0000" />
<rect x="668" y="240" width="1" height="28" fill="#000" />
<rect x="665" y="246" width="7" height="11" fill="#000" />
<rect x="666" y="247" width="5" height="9" fill="#00ff00" />
<rect x="677" y="176" width="1" height="67" fill="#000" />
<rect x="674" y="177" width="7" height="56" fill="#000" />
<rect x="675" y="178" width="5" height="54" fill="#00ff00" />
<rect x="686" y="170" width="1" height="31" fill="#000" />
<rect x="683" y="175" width="7" height="2" fill="#000" />
<rect x="695" y="125" width="1" height="54" fill="#000" />
<rect x="692" y="144" width="7" height="26" fill="#000" />
<rect x="693" y="145" width="5" height="24" fill="#00ff00" />
<rect x="704" y="133" width="1" height="25" fill="#000" />
<rect x="701" y="142" width="7" height="2" fill="#000" />
<rect x="713" y="139" width="1" height="37" fill="#000" />
<rect x="710" y="146" width="7" height="12" fill="#000" />
<rect x="711" y="147" width="5" height="10" fill="#ff0000" />
<rect x="722" y="141" width="1" height="33" fill="#000" />
<rect x="719" y="159" width="7" height="4" fill="#000" />
<rect x="720" y="160" width="5" height="2" fill="#ff0000" />
<rect x="731" y="123" width="1" height="60" fill="#000" />
<rect x="728" y="148" width="7" height="12" fill="#000" />
<rect x="729" y="149" width="5" height="10" fill="#00ff00" />
<rect x="740" y="120" width="1" height="39" fill="#000" />
<rect x="737" y="127" width="7" height="20" fill="#000" />
<rect x="738" y="128" width="5" height="18" fill="#00ff00" />
<rect x="749" y="112" width="1" height="22" fill="#000" />
<rect x="746" y="124" width="7" height="2" fill="#000" />
<rect x="758" y="123" width="1" height="23" fill="#000" />
<rect x="755" y="127" width="7" height="12" fill="#000" />
<rect x="756" y="128" width="5" height="10" fill="#ff0000" />
<rect x="767" y="108" width="1" height="45" fill="#000" />
<rect x="764" y="144" width="7" height="4" fill="#000" />
<rect x="765" y="145" width="5" height="2" fill="#ff0000" />
<rect x="776" y="98" width="1" height="57" fill="#000" />
<rect x="773" y="101" width="7" height="54" fill="#000" />
<rect x="774" y="102" width="5" height="52" fill="#00ff00" />
<rect x="785" y="71" width="1" height="39" fill="#000" />
<rect x="782" y="92" width="7" height="9" fill="#000" />
<rect x="783" y="93" width="5" height="7" fill="#00ff00" />
<rect x="794" y="90" width="1" height="29" fill="#000" />
<rect x="791" y="97" width="7" height="9" fill="#000" />
<rect x="792" y="98" width="5" height="7" fill="#ff0000" />
<rect x="803" y="79" width="1" height="47" fill="#000" />
<rect x="800" y="83" width="7" height="21" fill="#000" />
<rect x="801" y="84" width="5" height="19" fill="#00ff00" />
<rect x="812" y="76" width="1" height="63" fill="#000" />
<rect x="809" y="82" width="7" height="48" fill="#000" />
<rect x="810" y="83" width="5" height="46" fill="#ff0000" />
<rect x="821" y="116" width="1" height="25" fill="#000" />
<rect x="818" y="134" width="7" height="3" fill="#000" />
<rect x="819" y="135" width="5" height="1" fill="#ff0000" />
<rect x="830" y="135" width="1" height="20" fill="#000" />
<rect x="827" y="139" width="7" height="3" fill="#000" />
<rect x="828" y="140" width="5" height="1" fill="#ff0000" />
<rect x="839" y="112" width="1" height="35" fill="#000" />
<rect x="836" y="112" width="7" height="33" fill="#000" />
<rect x="837" y="113" width="5" height="31" fill="#00ff00" />
<rect x="848" y="101" width="1" height="26" fill="#000" />
<rect x="845" y="112" width="7" height="3" fill="#000" />
<rect x="846" y="113" width="5" height="1" fill="#00ff00" />
<rect x="857" y="81" width="1" height="42" fill="#000" />
<rect x="854" y="108" width="7" height="6" fill="#000" />
<rect x="855" y="109" width="5" height="4" fill="#00ff00" />
<rect x="866" y="73" width="1" height="39" fill="#000" />
<rect x="863" y="76" width="7" height="31" fill="#000" />
<rect x="864" y="77" width="5" height="29" fill="#00ff00" />
<rect x="875" y="66" width="1" height="28" fill="#000" />
<rect x="872" y="74" width="7" height="3" fill="#000" />
<rect x="873" y="75" width="5" height="1" fill="#00ff00" />
<rect x="884" y="45" width="1" height="35" fill="#000" />
<rect x="881" y="66" width="7" height="8" fill="#000" />
<rect x="882" y="67" width="5" height="6" fill="#00ff00" />
<rect x="893" y="66" width="1" height="38" fill="#000" />
<rect x="890" y="67" width="7" height="21" fill="#000" />
<rect x="891" y="68" width="5" height="19" fill="#ff0000" />
<rect x="902" y="82" width="1" height="61" fill="#000" />
<rect x="899" y="90" width="7" height="45" fill="#000" />
<rect x="900" y="91" width="5" height="43" fill="#ff0000" />
<rect x="911" y="122" width="1" height="18" fill="#000" />
<rect x="908" y="135" width="7" height="1" fill="#000" />
<rect x="920" y="131" width="1" height="43" fill="#000" />
<rect x="917" y="133" width="7" height="39" fill="#000" />
<rect x="918" y="134" width="5" height="37" fill="#ff0000" />
<rect x="929" y="164" width="1" height="10" fill="#000" />
<rect x="926" y="171" width="7" height="1" fill="#000" />
<rect x="938" y="145" width="1" height="32" fill="#000" />
<rect x="935" y="151" width="7" height="20" fill="#000" />
<rect x="936" y="152" width="5" height="18" fill="#00ff00" />
<rect x="947" y="108" width="1" height="38" fill="#000" />
<rect x="944" y="126" width="7" height="15" fill="#000" />
<rect x="945" y="127" width="5" height="13" fill="#00ff00" />
<rect x="956" y="112" width="1" height="19" fill="#000" />
<rect x="953" y="120" width="7" height="6" fill="#000" />
<rect x="954" y="121" width="5" height="4" fill="#00ff00" />
<rect x="965" y="119" width="1" height="45" fill="#000" />
<rect x="962" y="120" width="7" height="29" fill="#000" />
<rect x="963" y="121" width="5" height="27" fill="#ff0000" />
<rect x="974" y="134" width="1" height="46" fill="#000" />
<rect x="971" y="149" width="7" height="14" fill="#000" />
<rect x="972" y="150" width="5" height="12" fill="#ff0000" />
<rect x="983" y="143" width="1" height="33" fill="#000" />
<rect x="980" y="163" width="7" height="1" fill="#000" />
<rect x="992" y="110" width="1" height="57" fill="#000" />
<rect x="989" y="111" width="7" height="55" fill="#000" />
<rect x="990" y="112" width="5" height="53" fill="#00ff00" />
<rect x="1001" y="101" width="1" height="99" fill="#000" />
<rect x="998" y="113" width="7" height="86" fill="#000" />
<rect x="999" y="114" width="5" height="84" fill="#ff0000" />
<rect x="1010" y="177" width="1" height="40" fill="#000" />
<rect x="1007" y="193" width="7" height="8" fill="#000" />
<rect x="1008" y="194" width="5" height="6" fill="#00ff00" />
<rect x="1019" y="184" width="1" height="38" fill="#000" />
<rect x="1016" y="196" width="7" height="10" fill="#000" />
<rect x="1017" y="197" width="5" height="8" fill="#ff0000" />
<rect x="1028" y="192" width="1" height="56" fill="#000" />
<rect x="1025" y="207" width="7" height="35" fill="#000" />
<rect x="1026" y="208" width="5" height="33" fill="#ff0000" />
<rect x="1037" y="207" width="1" height="44" fill="#000" />
<rect x="1034" y="232" width="7" height="12" fill="#000" />
<rect x="1035" y="233" width="5" height="10" fill="#00ff00" />
<rect x="1046" y="192" width="1" height="48" fill="#000" />
<rect x="1043" y="200" width="7" height="33" fill="#000" />
<rect x="1044" y="201" width="5" height="31" fill="#00ff00" />
<rect x="1055" y="184" width="1" height="31" fill="#000" />
<rect x="1052" y="198" width="7" height="2" fill="#000" />
<rect x="1064" y="175" width="1" height="41" fill="#000" />
<rect x="1061" y="198" width="7" height="15" fill="#000" />
<rect x="1062" y="199" width="5" height="13" fill="#ff0000" />
<rect x="1073" y="207" width="1" height="42" fill="#000" />
<rect x="1070" y="213" width="7" height="27" fill="#000" />
<rect x="1071" y="214" width="5" height="25" fill="#ff0000" />
<rect x="1082" y="219" width="1" height="34" fill="#000" />
<rect x="1079" y="236" width="7" height="4" fill="#000" />
<rect x="1080" y="237" width="5" height="2" fill="#00ff00" />
<rect x="1091" y="231" width="1" height="56" fill="#000" />
<rect x="1088" y="234" width="7" height="46" fill="#000" />
<rect x="1089" y="235" width="5" height="44" fill="#ff0000" />
<rect x="1100" y="274" width="1" height="6" fill="#000" />
<rect x="1097" y="277" width="7" height="1" fill="#000" />
</g>
<polyline points="591,32.6 640,32.8 668,33 685,34.5 700,36.9 720,40.5 740,44.5 760,47.5 775,50.2 795,53.5 813,55.8 821,57.2 866,60.7 893,62.1 920,64.5 947,66.3 975,67.7 1010,71.5 1042,75 1070,78 1090,80.5 1101,82" fill="none" stroke="#000" stroke-width="1.8" stroke-linejoin="round" stroke-linecap="round" clip-path="url(#ctr)"/>
<polyline points="596.4,270 605,262.2 614,253.4 623,246 632,241.5 641,237.6 650,235.4 659,230.6 668,226.2 677,221.9 686,214.9 695,208.7 704,205.7 713,202.6 722,198.7 731,192.9 740,185.9 749,178 758,175.4 767,173.7 776,170.4 785,166.5 794,162.3 803,157.1 812,153.6 821,151.8 830,146.6 839,138.7 848,132.5 857,129 866,123.8 875,120.3 884,116.8 893,113.3 902,111.9 911,112.4 920,115 929,116.2 938,115.9 947,115.9 956,116.3 965,120 974,123 983,126 992,126 1001,128 1010,131.7 1019,135.4 1028,142 1037,148.2 1046,154.3 1055,161.2 1064,169.8 1073,176.4 1082,183.3 1091,188.2 1100,191.8 1108,193.6" fill="none" stroke="#ff7c26" stroke-width="2" stroke-linejoin="round" stroke-linecap="round" />
<text x="593" y="296.6" font-family="Liberation Sans, sans-serif" font-size="8.6" font-weight="normal" fill="#222" text-anchor="start" textLength="95" lengthAdjust="spacingAndGlyphs" >Copyright © 2007 eSignal.</text>
<rect x="1111" y="33" width="1" height="362" fill="#000" shape-rendering="crispEdges"/>
<text x="1112.5" y="77.8" font-family="Liberation Serif, serif" font-size="13.7" font-weight="bold" fill="#000" text-anchor="start" textLength="41" lengthAdjust="spacingAndGlyphs" >142500</text>
<text x="1112.5" y="125.9" font-family="Liberation Serif, serif" font-size="13.7" font-weight="bold" fill="#000" text-anchor="start" textLength="41" lengthAdjust="spacingAndGlyphs" >140000</text>
<text x="1112.5" y="174.4" font-family="Liberation Serif, serif" font-size="13.7" font-weight="bold" fill="#000" text-anchor="start" textLength="41" lengthAdjust="spacingAndGlyphs" >137500</text>
<text x="1112.5" y="222.4" font-family="Liberation Serif, serif" font-size="13.7" font-weight="bold" fill="#000" text-anchor="start" textLength="41" lengthAdjust="spacingAndGlyphs" >135000</text>
<text x="1112.5" y="270.4" font-family="Liberation Serif, serif" font-size="13.7" font-weight="bold" fill="#000" text-anchor="start" textLength="41" lengthAdjust="spacingAndGlyphs" >132500</text>
<rect x="1112" y="75" width="42" height="15" fill="#000" shape-rendering="crispEdges"/>
<text x="1113" y="87" font-family="Liberation Sans, sans-serif" font-size="13" font-weight="bold" fill="#e6e6e6" text-anchor="start" textLength="40" lengthAdjust="spacingAndGlyphs" >142097</text>
<rect x="1112" y="185" width="42" height="15.5" fill="#ff7c26" shape-rendering="crispEdges"/>
<text x="1113" y="197.5" font-family="Liberation Sans, sans-serif" font-size="13" font-weight="bold" fill="#e6e6e6" text-anchor="start" textLength="40" lengthAdjust="spacingAndGlyphs" >136292</text>
<rect x="1112" y="267" width="42" height="16" fill="#00f000" shape-rendering="crispEdges"/>
<text x="1113" y="280" font-family="Liberation Sans, sans-serif" font-size="13" font-weight="bold" fill="#e6e6e6" text-anchor="start" textLength="40" lengthAdjust="spacingAndGlyphs" >132150</text>
<text x="591" y="316.9" font-family="Liberation Sans, sans-serif" font-size="13.2" font-weight="bold" fill="#009400" text-anchor="start" textLength="47.5" lengthAdjust="spacingAndGlyphs" >Volume</text>
<g shape-rendering="crispEdges">
<rect x="595" y="336" width="2" height="58" fill="#008e00" />
<rect x="604" y="344" width="2" height="50" fill="#ff0000" />
<rect x="613" y="334" width="2" height="60" fill="#ff0000" />
<rect x="622" y="348" width="2" height="46" fill="#ff0000" />
<rect x="631" y="350" width="2" height="44" fill="#ff0000" />
<rect x="640" y="337" width="2" height="57" fill="#008e00" />
<rect x="649" y="338" width="2" height="56" fill="#ff0000" />
<rect x="658" y="331" width="2" height="63" fill="#ff0000" />
<rect x="667" y="348" width="2" height="46" fill="#008e00" />
<rect x="676" y="339" width="2" height="55" fill="#008e00" />
<rect x="685" y="329" width="2" height="65" fill="#008e00" />
<rect x="694" y="338" width="2" height="56" fill="#008e00" />
<rect x="703" y="332" width="2" height="62" fill="#ff0000" />
<rect x="712" y="355" width="2" height="39" fill="#ff0000" />
<rect x="721" y="339" width="2" height="55" fill="#ff0000" />
<rect x="730" y="337" width="2" height="57" fill="#008e00" />
<rect x="739" y="327" width="2" height="67" fill="#008e00" />
<rect x="748" y="345" width="2" height="49" fill="#ff0000" />
<rect x="757" y="358" width="2" height="36" fill="#ff0000" />
<rect x="766" y="349" width="2" height="45" fill="#ff0000" />
<rect x="775" y="334" width="2" height="60" fill="#008e00" />
<rect x="784" y="335" width="2" height="59" fill="#008e00" />
<rect x="793" y="334" width="2" height="60" fill="#ff0000" />
<rect x="802" y="355" width="2" height="39" fill="#008e00" />
<rect x="811" y="335" width="2" height="59" fill="#ff0000" />
<rect x="820" y="333" width="2" height="61" fill="#ff0000" />
<rect x="829" y="341" width="2" height="53" fill="#ff0000" />
<rect x="838" y="343" width="2" height="51" fill="#008e00" />
<rect x="847" y="345" width="2" height="49" fill="#008e00" />
<rect x="856" y="346" width="2" height="48" fill="#008e00" />
<rect x="865" y="340" width="2" height="54" fill="#008e00" />
<rect x="874" y="339" width="2" height="55" fill="#008e00" />
<rect x="883" y="338" width="2" height="56" fill="#008e00" />
<rect x="892" y="338" width="2" height="56" fill="#ff0000" />
<rect x="901" y="336" width="2" height="58" fill="#ff0000" />
<rect x="910" y="320" width="2" height="74" fill="#008e00" />
<rect x="919" y="340" width="2" height="54" fill="#ff0000" />
<rect x="928" y="340" width="2" height="54" fill="#008e00" />
<rect x="937" y="346" width="2" height="48" fill="#008e00" />
<rect x="946" y="341" width="2" height="53" fill="#008e00" />
<rect x="955" y="340" width="2" height="54" fill="#008e00" />
<rect x="964" y="357" width="2" height="37" fill="#ff0000" />
<rect x="973" y="341" width="2" height="53" fill="#ff0000" />
<rect x="982" y="327" width="2" height="67" fill="#ff0000" />
<rect x="991" y="329" width="2" height="65" fill="#008e00" />
<rect x="1000" y="332" width="2" height="62" fill="#ff0000" />
<rect x="1009" y="308" width="2" height="86" fill="#008e00" />
<rect x="1018" y="327" width="2" height="67" fill="#ff0000" />
<rect x="1027" y="325" width="2" height="69" fill="#ff0000" />
<rect x="1036" y="383" width="2" height="11" fill="#008e00" />
<rect x="1045" y="342" width="2" height="52" fill="#008e00" />
<rect x="1054" y="331" width="2" height="63" fill="#008e00" />
<rect x="1063" y="341" width="2" height="53" fill="#ff0000" />
<rect x="1072" y="331" width="2" height="63" fill="#ff0000" />
<rect x="1081" y="322" width="2" height="72" fill="#008e00" />
<rect x="1090" y="321" width="2" height="73" fill="#ff0000" />
<rect x="1099" y="321" width="2" height="73" fill="#008e00" />
</g>
<rect x="590" y="394" width="522" height="1" fill="#000" shape-rendering="crispEdges"/>
<text x="1113" y="317.5" font-family="Liberation Serif, serif" font-size="13.33" font-weight="bold" fill="#000" text-anchor="start" >2.5M</text>
<text x="1113" y="391.2" font-family="Liberation Serif, serif" font-size="13.33" font-weight="bold" fill="#000" text-anchor="start" >0</text>
<rect x="1112" y="313" width="64" height="15.5" fill="#008e00" shape-rendering="crispEdges"/>
<text x="1113" y="325.5" font-family="Liberation Sans, sans-serif" font-size="13" font-weight="bold" fill="#e6e6e6" text-anchor="start" textLength="62" lengthAdjust="spacingAndGlyphs" >2.356034M</text>
<text x="620.2" y="408.2" font-family="Liberation Serif, serif" font-size="13.7" font-weight="bold" fill="#000" text-anchor="middle" >07</text>
<text x="666" y="408.2" font-family="Liberation Serif, serif" font-size="13.7" font-weight="bold" fill="#000" text-anchor="middle" >14</text>
<text x="710.4" y="408.2" font-family="Liberation Serif, serif" font-size="13.7" font-weight="bold" fill="#000" text-anchor="middle" >21</text>
<text x="755.4" y="408.2" font-family="Liberation Serif, serif" font-size="13.7" font-weight="bold" fill="#000" text-anchor="middle" >28</text>
<text x="800.4" y="408.2" font-family="Liberation Serif, serif" font-size="13.7" font-weight="bold" fill="#000" text-anchor="middle" >05</text>
<text x="845.9" y="408.2" font-family="Liberation Serif, serif" font-size="13.7" font-weight="bold" fill="#000" text-anchor="middle" >12</text>
<text x="890.7" y="408.2" font-family="Liberation Serif, serif" font-size="13.7" font-weight="bold" fill="#000" text-anchor="middle" >19</text>
<text x="935.7" y="408.2" font-family="Liberation Serif, serif" font-size="13.7" font-weight="bold" fill="#000" text-anchor="middle" >26</text>
<text x="971.9" y="408.2" font-family="Liberation Serif, serif" font-size="13.7" font-weight="bold" fill="#000" text-anchor="middle" >02</text>
<text x="1016.3" y="408.2" font-family="Liberation Serif, serif" font-size="13.7" font-weight="bold" fill="#000" text-anchor="middle" >09</text>
<text x="1062.2" y="408.2" font-family="Liberation Serif, serif" font-size="13.7" font-weight="bold" fill="#000" text-anchor="middle" >16</text>
<text x="1106.3" y="408.2" font-family="Liberation Serif, serif" font-size="13.7" font-weight="bold" fill="#000" text-anchor="middle" >23</text>
<text x="776.7" y="423.5" font-family="Liberation Sans, sans-serif" font-size="13" font-weight="bold" fill="#000" text-anchor="start" textLength="24.8" lengthAdjust="spacingAndGlyphs" >May</text>
<text x="965" y="423.5" font-family="Liberation Sans, sans-serif" font-size="13" font-weight="bold" fill="#000" text-anchor="start" textLength="22.6" lengthAdjust="spacingAndGlyphs" >Jun</text>
</g>
<g id="bl">
<clipPath id="cbl"><rect x="7" y="461" width="508" height="361"/></clipPath>
<rect x="112" y="503" width="403" height="3" fill="#ff0000" shape-rendering="crispEdges"/>
<rect x="287.5" y="627" width="227.5" height="3" fill="#ff0000" shape-rendering="crispEdges"/>
<rect x="151.5" y="750" width="363.5" height="3" fill="#0000ff" shape-rendering="crispEdges"/>
<g shape-rendering="crispEdges">
<rect x="24" y="801" width="1" height="9" fill="#000" />
<rect x="32" y="785" width="1" height="25" fill="#000" />
<rect x="40" y="802" width="1" height="8" fill="#000" />
<rect x="48" y="789" width="1" height="21" fill="#000" />
<rect x="56" y="790" width="1" height="20" fill="#000" />
<rect x="64" y="792" width="1" height="18" fill="#000" />
<rect x="62" y="802" width="5" height="11" fill="#000" />
<rect x="63" y="803" width="3" height="9" fill="#ff0000" />
<rect x="72" y="736" width="1" height="74" fill="#000" />
<rect x="70" y="780" width="5" height="33" fill="#000" />
<rect x="71" y="781" width="3" height="31" fill="#00ff00" />
<rect x="80" y="743" width="1" height="67" fill="#000" />
<rect x="78" y="770" width="5" height="30" fill="#000" />
<rect x="79" y="771" width="3" height="28" fill="#ff0000" />
<rect x="88" y="745" width="1" height="65" fill="#000" />
<rect x="86" y="761" width="5" height="28" fill="#000" />
<rect x="87" y="762" width="3" height="26" fill="#00ff00" />
<rect x="96" y="703" width="1" height="82" fill="#000" />
<rect x="94" y="747" width="5" height="6" fill="#000" />
<rect x="95" y="748" width="3" height="4" fill="#ff0000" />
<rect x="104" y="747" width="1" height="37" fill="#000" />
<rect x="102" y="747" width="5" height="37" fill="#000" />
<rect x="103" y="748" width="3" height="35" fill="#ff0000" />
<rect x="112" y="721" width="1" height="59" fill="#000" />
<rect x="110" y="770" width="5" height="5" fill="#000" />
<rect x="111" y="771" width="3" height="3" fill="#ff0000" />
<rect x="120" y="710" width="1" height="64" fill="#000" />
<rect x="118" y="739" width="5" height="26" fill="#000" />
<rect x="119" y="740" width="3" height="24" fill="#00ff00" />
<rect x="128" y="627" width="1" height="122" fill="#000" />
<rect x="126" y="627" width="5" height="117" fill="#000" />
<rect x="127" y="628" width="3" height="115" fill="#00ff00" />
<rect x="136" y="601" width="1" height="90" fill="#000" />
<rect x="134" y="614" width="5" height="20" fill="#000" />
<rect x="135" y="615" width="3" height="18" fill="#00ff00" />
<rect x="144" y="560" width="1" height="137" fill="#000" />
<rect x="142" y="577" width="5" height="35" fill="#000" />
<rect x="143" y="578" width="3" height="33" fill="#00ff00" />
<rect x="152" y="488" width="1" height="125" fill="#000" />
<rect x="150" y="559" width="5" height="21" fill="#000" />
<rect x="151" y="560" width="3" height="19" fill="#00ff00" />
<rect x="160" y="559" width="1" height="120" fill="#000" />
<rect x="158" y="560" width="5" height="115" fill="#000" />
<rect x="159" y="561" width="3" height="113" fill="#ff0000" />
<rect x="168" y="597" width="1" height="60" fill="#000" />
<rect x="166" y="637" width="5" height="17" fill="#000" />
<rect x="167" y="638" width="3" height="15" fill="#00ff00" />
<rect x="176" y="592" width="1" height="68" fill="#000" />
<rect x="174" y="601" width="5" height="56" fill="#000" />
<rect x="175" y="602" width="3" height="54" fill="#00ff00" />
<rect x="184" y="571" width="1" height="60" fill="#000" />
<rect x="182" y="593" width="5" height="24" fill="#000" />
<rect x="183" y="594" width="3" height="22" fill="#ff0000" />
<rect x="192" y="591" width="1" height="122" fill="#000" />
<rect x="190" y="598" width="5" height="104" fill="#000" />
<rect x="191" y="599" width="3" height="102" fill="#ff0000" />
<rect x="200" y="679" width="1" height="59" fill="#000" />
<rect x="198" y="702" width="5" height="17" fill="#000" />
<rect x="199" y="703" width="3" height="15" fill="#ff0000" />
<rect x="208" y="702" width="1" height="46" fill="#000" />
<rect x="206" y="712" width="5" height="27" fill="#000" />
<rect x="207" y="713" width="3" height="25" fill="#ff0000" />
<rect x="216" y="690" width="1" height="65" fill="#000" />
<rect x="214" y="723" width="5" height="2" fill="#000" />
<rect x="224" y="643" width="1" height="80" fill="#000" />
<rect x="222" y="644" width="5" height="73" fill="#000" />
<rect x="223" y="645" width="3" height="71" fill="#00ff00" />
<rect x="232" y="627" width="1" height="67" fill="#000" />
<rect x="230" y="630" width="5" height="63" fill="#000" />
<rect x="231" y="631" width="3" height="61" fill="#ff0000" />
<rect x="240" y="614" width="1" height="100" fill="#000" />
<rect x="238" y="642" width="5" height="45" fill="#000" />
<rect x="239" y="643" width="3" height="43" fill="#00ff00" />
<rect x="248" y="568" width="1" height="98" fill="#000" />
<rect x="246" y="576" width="5" height="38" fill="#000" />
<rect x="247" y="577" width="3" height="36" fill="#00ff00" />
<rect x="256" y="547" width="1" height="94" fill="#000" />
<rect x="254" y="553" width="5" height="57" fill="#000" />
<rect x="255" y="554" width="3" height="55" fill="#ff0000" />
<rect x="264" y="583" width="1" height="50" fill="#000" />
<rect x="262" y="596" width="5" height="12" fill="#000" />
<rect x="263" y="597" width="3" height="10" fill="#ff0000" />
<rect x="272" y="570" width="1" height="85" fill="#000" />
<rect x="270" y="598" width="5" height="46" fill="#000" />
<rect x="271" y="599" width="3" height="44" fill="#ff0000" />
<rect x="280" y="622" width="1" height="70" fill="#000" />
<rect x="278" y="634" width="5" height="39" fill="#000" />
<rect x="279" y="635" width="3" height="37" fill="#ff0000" />
<rect x="288" y="631" width="1" height="59" fill="#000" />
<rect x="286" y="639" width="5" height="29" fill="#000" />
<rect x="287" y="640" width="3" height="27" fill="#00ff00" />
<rect x="296" y="618" width="1" height="96" fill="#000" />
<rect x="294" y="628" width="5" height="83" fill="#000" />
<rect x="295" y="629" width="3" height="81" fill="#ff0000" />
<rect x="304" y="670" width="1" height="41" fill="#000" />
<rect x="302" y="676" width="5" height="25" fill="#000" />
<rect x="303" y="677" width="3" height="23" fill="#00ff00" />
<rect x="312" y="625" width="1" height="33" fill="#000" />
<rect x="310" y="630" width="5" height="29" fill="#000" />
<rect x="311" y="631" width="3" height="27" fill="#00ff00" />
<rect x="320" y="604" width="1" height="43" fill="#000" />
<rect x="318" y="622" width="5" height="11" fill="#000" />
<rect x="319" y="623" width="3" height="9" fill="#ff0000" />
<rect x="328" y="566" width="1" height="81" fill="#000" />
<rect x="326" y="590" width="5" height="42" fill="#000" />
<rect x="327" y="591" width="3" height="40" fill="#00ff00" />
<rect x="336" y="488" width="1" height="116" fill="#000" />
<rect x="334" y="509" width="5" height="59" fill="#000" />
<rect x="335" y="510" width="3" height="57" fill="#ff0000" />
<rect x="344" y="556" width="1" height="71" fill="#000" />
<rect x="342" y="562" width="5" height="66" fill="#000" />
<rect x="343" y="563" width="3" height="64" fill="#ff0000" />
<rect x="352" y="562" width="1" height="56" fill="#000" />
<rect x="350" y="580" width="5" height="35" fill="#000" />
<rect x="351" y="581" width="3" height="33" fill="#00ff00" />
<rect x="360" y="563" width="1" height="60" fill="#000" />
<rect x="358" y="569" width="5" height="47" fill="#000" />
<rect x="359" y="570" width="3" height="45" fill="#ff0000" />
<rect x="368" y="592" width="1" height="42" fill="#000" />
<rect x="366" y="612" width="5" height="17" fill="#000" />
<rect x="367" y="613" width="3" height="15" fill="#ff0000" />
<rect x="376" y="593" width="1" height="68" fill="#000" />
<rect x="374" y="597" width="5" height="31" fill="#000" />
<rect x="375" y="598" width="3" height="29" fill="#00ff00" />
<rect x="384" y="566" width="1" height="72" fill="#000" />
<rect x="382" y="585" width="5" height="1" fill="#000" />
<rect x="392" y="530" width="1" height="87" fill="#000" />
<rect x="390" y="547" width="5" height="32" fill="#000" />
<rect x="391" y="548" width="3" height="30" fill="#00ff00" />
<rect x="400" y="506" width="1" height="108" fill="#000" />
<rect x="398" y="509" width="5" height="88" fill="#000" />
<rect x="399" y="510" width="3" height="86" fill="#ff0000" />
<rect x="408" y="591" width="1" height="27" fill="#000" />
<rect x="406" y="597" width="5" height="10" fill="#000" />
<rect x="407" y="598" width="3" height="8" fill="#ff0000" />
<rect x="416" y="594" width="1" height="66" fill="#000" />
<rect x="414" y="607" width="5" height="43" fill="#000" />
<rect x="415" y="608" width="3" height="41" fill="#ff0000" />
<rect x="424" y="634" width="1" height="33" fill="#000" />
<rect x="422" y="637" width="5" height="13" fill="#000" />
<rect x="423" y="638" width="3" height="11" fill="#00ff00" />
<rect x="432" y="624" width="1" height="74" fill="#000" />
<rect x="430" y="636" width="5" height="48" fill="#000" />
<rect x="431" y="637" width="3" height="46" fill="#ff0000" />
<rect x="440" y="662" width="1" height="36" fill="#000" />
<rect x="438" y="685" width="5" height="8" fill="#000" />
<rect x="439" y="686" width="3" height="6" fill="#ff0000" />
<rect x="448" y="673" width="1" height="47" fill="#000" />
<rect x="446" y="685" width="5" height="31" fill="#000" />
<rect x="447" y="686" width="3" height="29" fill="#ff0000" />
<rect x="456" y="686" width="1" height="30" fill="#000" />
<rect x="454" y="697" width="5" height="11" fill="#000" />
<rect x="455" y="698" width="3" height="9" fill="#00ff00" />
<rect x="464" y="692" width="1" height="60" fill="#000" />
<rect x="462" y="700" width="5" height="47" fill="#000" />
<rect x="463" y="701" width="3" height="45" fill="#ff0000" />
<rect x="472" y="689" width="1" height="70" fill="#000" />
<rect x="470" y="694" width="5" height="53" fill="#000" />
<rect x="471" y="695" width="3" height="51" fill="#00ff00" />
<rect x="480" y="672" width="1" height="54" fill="#000" />
<rect x="478" y="675" width="5" height="47" fill="#000" />
<rect x="479" y="676" width="3" height="45" fill="#ff0000" />
<rect x="488" y="632" width="1" height="89" fill="#000" />
<rect x="486" y="636" width="5" height="86" fill="#000" />
<rect x="487" y="637" width="3" height="84" fill="#00ff00" />
<rect x="496" y="623" width="1" height="71" fill="#000" />
<rect x="494" y="636" width="5" height="32" fill="#000" />
<rect x="495" y="637" width="3" height="30" fill="#ff0000" />
<rect x="504" y="633" width="1" height="52" fill="#000" />
<rect x="502" y="645" width="5" height="22" fill="#000" />
<rect x="503" y="646" width="3" height="20" fill="#00ff00" />
</g>
<polyline points="8,822 8,795 8,794.7 16,795 24,796.4 40,798 64,799 88,800 104,801.4 112,802 136,802 144,800.6 160,798 176,795.5 184,794.6 224,794.6 240,793.1 248,791.3 264,790 288,788.3 312,786.3 336,784.5 352,782 376,778.2 400,775.8 424,772.5 448,770.7 472,769.7 504,768.7" fill="none" stroke="#000" stroke-width="2.4" stroke-linejoin="round" stroke-linecap="round" />
<rect x="7" y="816" width="4" height="6" fill="#ff0000" shape-rendering="crispEdges"/>
<polyline points="8,821.5 28,821.2 36,817 45,809.4 52,805.5 56,804 60,809.5" fill="none" stroke="#ff7c26" stroke-width="2" stroke-linejoin="round" stroke-linecap="round" clip-path="url(#cbl)"/>
<rect x="8" y="810.5" width="98" height="9.5" fill="#c2c2c2" />
<polyline points="8,821.3 28,821.2 33,819.5" fill="none" stroke="#ff7c26" stroke-width="2" stroke-linejoin="round" stroke-linecap="round" clip-path="url(#cbl)"/>
<rect x="38" y="820.3" width="5" height="1.5" fill="#e00000" />
<rect x="46" y="820.3" width="5" height="1.5" fill="#e00000" />
<rect x="62" y="820.3" width="5" height="1.5" fill="#e00000" />
<polyline points="96,809.6 104,807.3 112,802.3 120,793.9 128,777 136,757 144,731 152,711.5 160,698.2 168,684.9 176,670.6 184,661.3 192,656.9 200,655.3 208,652.8 216,650.4 224,645.5 232,649.1 240,651.1 248,651.6 256,656 264,651.6 272,651.6 280,655.3 288,659 296,659.4 304,657.7 312,650.4 320,641.8 328,636.9 336,629.5 344,628.3 352,628.3 360,628.3 368,629.5 376,625.8 384,618.5 392,609.9 400,603.7 408,599.3 416,600.8 424,601.3 432,608.7 440,617.2 448,623.4 456,633.2 464,641.8 472,646.7 480,654 488,659 496,667.5 504,674.2" fill="none" stroke="#ff7c26" stroke-width="2" stroke-linejoin="round" stroke-linecap="round" clip-path="url(#cbl)"/>
<text x="10" y="818.3" font-family="Liberation Sans, sans-serif" font-size="8.6" font-weight="normal" fill="#222" text-anchor="start" textLength="94" lengthAdjust="spacingAndGlyphs" >Copyright © 2007 eSignal.</text>
<text x="8" y="473.8" font-family="Liberation Sans, sans-serif" font-size="12.3" font-weight="bold" fill="#000" text-anchor="start" textLength="292" lengthAdjust="spacingAndGlyphs" >($VIX - Market Volatility,W) Dynamic,0:00-24:00</text>
<rect x="515" y="461" width="1" height="362" fill="#000" shape-rendering="crispEdges"/>
<rect x="7" y="822" width="509" height="1" fill="#000" shape-rendering="crispEdges"/>
<text x="516" y="473.8" font-family="Liberation Serif, serif" font-size="13.7" font-weight="bold" fill="#000" text-anchor="start" textLength="32.5" lengthAdjust="spacingAndGlyphs" >40.00</text>
<text x="516" y="515.1" font-family="Liberation Serif, serif" font-size="13.7" font-weight="bold" fill="#000" text-anchor="start" textLength="32.5" lengthAdjust="spacingAndGlyphs" >35.00</text>
<text x="516" y="564.2" font-family="Liberation Serif, serif" font-size="13.7" font-weight="bold" fill="#000" text-anchor="start" textLength="32.5" lengthAdjust="spacingAndGlyphs" >30.00</text>
<text x="516" y="621.3" font-family="Liberation Serif, serif" font-size="13.7" font-weight="bold" fill="#000" text-anchor="start" textLength="32.5" lengthAdjust="spacingAndGlyphs" >25.00</text>
<text x="516" y="691.3" font-family="Liberation Serif, serif" font-size="13.7" font-weight="bold" fill="#000" text-anchor="start" textLength="32.5" lengthAdjust="spacingAndGlyphs" >20.00</text>
<text x="516" y="782.8" font-family="Liberation Serif, serif" font-size="13.7" font-weight="bold" fill="#000" text-anchor="start" textLength="32.5" lengthAdjust="spacingAndGlyphs" >15.00</text>
<rect x="516" y="637" width="32" height="15.5" fill="#00f000" shape-rendering="crispEdges"/>
<text x="517" y="649.5" font-family="Liberation Sans, sans-serif" font-size="13" font-weight="bold" fill="#e6e6e6" text-anchor="start" textLength="30" lengthAdjust="spacingAndGlyphs" >22.87</text>
<rect x="516" y="666" width="60.5" height="16" fill="#ff7c26" shape-rendering="crispEdges"/>
<text x="517" y="679" font-family="Liberation Sans, sans-serif" font-size="13" font-weight="bold" fill="#e6e6e6" text-anchor="start" textLength="58.5" lengthAdjust="spacingAndGlyphs" >20.802308</text>
<rect x="516" y="760.5" width="46" height="15.5" fill="#000" shape-rendering="crispEdges"/>
<text x="517" y="773" font-family="Liberation Sans, sans-serif" font-size="13" font-weight="bold" fill="#e6e6e6" text-anchor="start" textLength="44" lengthAdjust="spacingAndGlyphs" >15.4017</text>
<text x="32.8" y="836.3" font-family="Liberation Sans, sans-serif" font-size="13" font-weight="bold" fill="#000" text-anchor="start" textLength="25.2" lengthAdjust="spacingAndGlyphs" >May</text>
<text x="64.5" y="836.3" font-family="Liberation Sans, sans-serif" font-size="13" font-weight="bold" fill="#000" text-anchor="start" textLength="22.2" lengthAdjust="spacingAndGlyphs" >Jun</text>
<text x="104.4" y="836.3" font-family="Liberation Sans, sans-serif" font-size="13" font-weight="bold" fill="#000" text-anchor="start" textLength="18.2" lengthAdjust="spacingAndGlyphs" >Jul</text>
<text x="136.4" y="836.3" font-family="Liberation Sans, sans-serif" font-size="13" font-weight="bold" fill="#000" text-anchor="start" textLength="23.9" lengthAdjust="spacingAndGlyphs" >Aug</text>
<text x="176.8" y="836.3" font-family="Liberation Sans, sans-serif" font-size="13" font-weight="bold" fill="#000" text-anchor="start" textLength="23.2" lengthAdjust="spacingAndGlyphs" >Sep</text>
<text x="209.4" y="836.3" font-family="Liberation Sans, sans-serif" font-size="13" font-weight="bold" fill="#000" text-anchor="start" textLength="19.6" lengthAdjust="spacingAndGlyphs" >Oct</text>
<text x="241" y="836.3" font-family="Liberation Sans, sans-serif" font-size="13" font-weight="bold" fill="#000" text-anchor="start" textLength="23.4" lengthAdjust="spacingAndGlyphs" >Nov</text>
<text x="280.8" y="836.3" font-family="Liberation Sans, sans-serif" font-size="13" font-weight="bold" fill="#000" text-anchor="start" textLength="23.2" lengthAdjust="spacingAndGlyphs" >Dec</text>
<text x="312.3" y="836.3" font-family="Liberation Sans, sans-serif" font-size="13" font-weight="bold" fill="#000" text-anchor="start" textLength="22.2" lengthAdjust="spacingAndGlyphs" >Jan</text>
<text x="344.4" y="836.3" font-family="Liberation Sans, sans-serif" font-size="13" font-weight="bold" fill="#000" text-anchor="start" textLength="22.1" lengthAdjust="spacingAndGlyphs" >Feb</text>
<text x="384.5" y="836.3" font-family="Liberation Sans, sans-serif" font-size="13" font-weight="bold" fill="#000" text-anchor="start" textLength="22.8" lengthAdjust="spacingAndGlyphs" >Mar</text>
<text x="416.6" y="836.3" font-family="Liberation Sans, sans-serif" font-size="13" font-weight="bold" fill="#000" text-anchor="start" textLength="21.4" lengthAdjust="spacingAndGlyphs" >Apr</text>
<text x="448.6" y="836.3" font-family="Liberation Sans, sans-serif" font-size="13" font-weight="bold" fill="#000" text-anchor="start" textLength="25.3" lengthAdjust="spacingAndGlyphs" >May</text>
<text x="488" y="836.3" font-family="Liberation Sans, sans-serif" font-size="13" font-weight="bold" fill="#000" text-anchor="start" textLength="22.7" lengthAdjust="spacingAndGlyphs" >Jun</text>
<text x="312.3" y="851.3" font-family="Liberation Sans, sans-serif" font-size="13" font-weight="bold" fill="#000" text-anchor="start" textLength="27" lengthAdjust="spacingAndGlyphs" >2008</text>
</g>
<g id="br">
<clipPath id="cbr"><rect x="590" y="461" width="529" height="361"/></clipPath>
<text x="591" y="473.8" font-family="Liberation Sans, sans-serif" font-size="12.3" font-weight="bold" fill="#000" text-anchor="start" textLength="287.5" lengthAdjust="spacingAndGlyphs" >($VIX - Market Volatility,D) Dynamic,0:00-24:00</text>
<rect x="590" y="515" width="529" height="3" fill="#ff0000" shape-rendering="crispEdges"/>
<rect x="945.8" y="740" width="56.8" height="3" fill="#0000ff" shape-rendering="crispEdges"/>
<rect x="990.3" y="701" width="57.4" height="3" fill="#0000ff" shape-rendering="crispEdges"/>
<rect x="1053.5" y="650" width="57" height="3" fill="#0000ff" shape-rendering="crispEdges"/>
<g shape-rendering="crispEdges">
<rect x="595" y="478" width="1" height="87" fill="#000" />
<rect x="592" y="478" width="7" height="82" fill="#000" />
<rect x="593" y="479" width="5" height="80" fill="#ff0000" />
<rect x="604" y="532" width="1" height="37" fill="#000" />
<rect x="601" y="538" width="7" height="23" fill="#000" />
<rect x="602" y="539" width="5" height="21" fill="#00ff00" />
<rect x="613" y="518" width="1" height="33" fill="#000" />
<rect x="610" y="526" width="7" height="18" fill="#000" />
<rect x="611" y="527" width="5" height="16" fill="#ff0000" />
<rect x="622" y="542" width="1" height="47" fill="#000" />
<rect x="619" y="552" width="7" height="16" fill="#000" />
<rect x="620" y="553" width="5" height="14" fill="#ff0000" />
<rect x="631" y="559" width="1" height="47" fill="#000" />
<rect x="628" y="567" width="7" height="1" fill="#000" />
<rect x="640" y="546" width="1" height="23" fill="#000" />
<rect x="637" y="567" width="7" height="2" fill="#000" />
<rect x="649" y="534" width="1" height="36" fill="#000" />
<rect x="646" y="556" width="7" height="15" fill="#000" />
<rect x="647" y="557" width="5" height="13" fill="#00ff00" />
<rect x="658" y="544" width="1" height="48" fill="#000" />
<rect x="655" y="558" width="7" height="24" fill="#000" />
<rect x="656" y="559" width="5" height="22" fill="#ff0000" />
<rect x="667" y="534" width="1" height="27" fill="#000" />
<rect x="664" y="538" width="7" height="12" fill="#000" />
<rect x="665" y="539" width="5" height="10" fill="#00ff00" />
<rect x="676" y="512" width="1" height="25" fill="#000" />
<rect x="673" y="527" width="7" height="11" fill="#000" />
<rect x="674" y="528" width="5" height="9" fill="#00ff00" />
<rect x="685" y="522" width="1" height="37" fill="#000" />
<rect x="682" y="526" width="7" height="31" fill="#000" />
<rect x="683" y="527" width="5" height="29" fill="#ff0000" />
<rect x="694" y="578" width="1" height="51" fill="#000" />
<rect x="691" y="580" width="7" height="48" fill="#000" />
<rect x="692" y="581" width="5" height="46" fill="#ff0000" />
<rect x="703" y="595" width="1" height="39" fill="#000" />
<rect x="700" y="608" width="7" height="25" fill="#000" />
<rect x="701" y="609" width="5" height="23" fill="#ff0000" />
<rect x="712" y="633" width="1" height="40" fill="#000" />
<rect x="709" y="634" width="7" height="7" fill="#000" />
<rect x="710" y="635" width="5" height="5" fill="#ff0000" />
<rect x="721" y="608" width="1" height="32" fill="#000" />
<rect x="718" y="630" width="7" height="11" fill="#000" />
<rect x="719" y="631" width="5" height="9" fill="#00ff00" />
<rect x="730" y="593" width="1" height="36" fill="#000" />
<rect x="727" y="616" width="7" height="14" fill="#000" />
<rect x="728" y="617" width="5" height="12" fill="#00ff00" />
<rect x="739" y="614" width="1" height="35" fill="#000" />
<rect x="736" y="624" width="7" height="13" fill="#000" />
<rect x="737" y="625" width="5" height="11" fill="#ff0000" />
<rect x="748" y="620" width="1" height="53" fill="#000" />
<rect x="745" y="637" width="7" height="7" fill="#000" />
<rect x="746" y="638" width="5" height="5" fill="#ff0000" />
<rect x="757" y="633" width="1" height="37" fill="#000" />
<rect x="754" y="658" width="7" height="2" fill="#000" />
<rect x="766" y="637" width="1" height="30" fill="#000" />
<rect x="763" y="642" width="7" height="16" fill="#000" />
<rect x="764" y="643" width="5" height="14" fill="#ff0000" />
<rect x="775" y="627" width="1" height="31" fill="#000" />
<rect x="772" y="637" width="7" height="13" fill="#000" />
<rect x="773" y="638" width="5" height="11" fill="#00ff00" />
<rect x="784" y="617" width="1" height="39" fill="#000" />
<rect x="781" y="620" width="7" height="17" fill="#000" />
<rect x="782" y="621" width="5" height="15" fill="#00ff00" />
<rect x="793" y="618" width="1" height="67" fill="#000" />
<rect x="790" y="619" width="7" height="65" fill="#000" />
<rect x="791" y="620" width="5" height="63" fill="#ff0000" />
<rect x="802" y="676" width="1" height="42" fill="#000" />
<rect x="799" y="686" width="7" height="24" fill="#000" />
<rect x="800" y="687" width="5" height="22" fill="#ff0000" />
<rect x="811" y="670" width="1" height="21" fill="#000" />
<rect x="808" y="685" width="7" height="7" fill="#000" />
<rect x="809" y="686" width="5" height="5" fill="#00ff00" />
<rect x="820" y="660" width="1" height="53" fill="#000" />
<rect x="817" y="685" width="7" height="24" fill="#000" />
<rect x="818" y="686" width="5" height="22" fill="#ff0000" />
<rect x="829" y="646" width="1" height="55" fill="#000" />
<rect x="826" y="656" width="7" height="43" fill="#000" />
<rect x="827" y="657" width="5" height="41" fill="#00ff00" />
<rect x="838" y="648" width="1" height="46" fill="#000" />
<rect x="835" y="656" width="7" height="10" fill="#000" />
<rect x="836" y="657" width="5" height="8" fill="#ff0000" />
<rect x="847" y="646" width="1" height="22" fill="#000" />
<rect x="844" y="646" width="7" height="19" fill="#000" />
<rect x="845" y="647" width="5" height="17" fill="#ff0000" />
<rect x="856" y="663" width="1" height="96" fill="#000" />
<rect x="853" y="674" width="7" height="51" fill="#000" />
<rect x="854" y="675" width="5" height="49" fill="#ff0000" />
<rect x="865" y="658" width="1" height="67" fill="#000" />
<rect x="862" y="717" width="7" height="9" fill="#000" />
<rect x="863" y="718" width="5" height="7" fill="#00ff00" />
<rect x="874" y="717" width="1" height="72" fill="#000" />
<rect x="871" y="717" width="7" height="13" fill="#000" />
<rect x="872" y="718" width="5" height="11" fill="#ff0000" />
<rect x="883" y="723" width="1" height="63" fill="#000" />
<rect x="880" y="731" width="7" height="53" fill="#000" />
<rect x="881" y="732" width="5" height="51" fill="#ff0000" />
<rect x="892" y="720" width="1" height="63" fill="#000" />
<rect x="889" y="777" width="7" height="7" fill="#000" />
<rect x="890" y="778" width="5" height="5" fill="#00ff00" />
<rect x="901" y="720" width="1" height="84" fill="#000" />
<rect x="898" y="756" width="7" height="21" fill="#000" />
<rect x="899" y="757" width="5" height="19" fill="#00ff00" />
<rect x="910" y="701" width="1" height="53" fill="#000" />
<rect x="907" y="734" width="7" height="21" fill="#000" />
<rect x="908" y="735" width="5" height="19" fill="#00ff00" />
<rect x="919" y="684" width="1" height="71" fill="#000" />
<rect x="916" y="696" width="7" height="34" fill="#000" />
<rect x="917" y="697" width="5" height="32" fill="#00ff00" />
<rect x="928" y="676" width="1" height="48" fill="#000" />
<rect x="925" y="684" width="7" height="32" fill="#000" />
<rect x="926" y="685" width="5" height="30" fill="#ff0000" />
<rect x="937" y="652" width="1" height="51" fill="#000" />
<rect x="934" y="662" width="7" height="33" fill="#000" />
<rect x="935" y="663" width="5" height="31" fill="#00ff00" />
<rect x="946" y="614" width="1" height="51" fill="#000" />
<rect x="943" y="619" width="7" height="39" fill="#000" />
<rect x="944" y="620" width="5" height="37" fill="#ff0000" />
<rect x="955" y="644" width="1" height="36" fill="#000" />
<rect x="952" y="658" width="7" height="20" fill="#000" />
<rect x="953" y="659" width="5" height="18" fill="#ff0000" />
<rect x="964" y="674" width="1" height="60" fill="#000" />
<rect x="961" y="677" width="7" height="34" fill="#000" />
<rect x="962" y="678" width="5" height="32" fill="#ff0000" />
<rect x="973" y="709" width="1" height="24" fill="#000" />
<rect x="970" y="712" width="7" height="11" fill="#000" />
<rect x="971" y="713" width="5" height="9" fill="#ff0000" />
<rect x="982" y="630" width="1" height="92" fill="#000" />
<rect x="979" y="652" width="7" height="71" fill="#000" />
<rect x="980" y="653" width="5" height="69" fill="#00ff00" />
<rect x="991" y="612" width="1" height="71" fill="#000" />
<rect x="988" y="637" width="7" height="15" fill="#000" />
<rect x="989" y="638" width="5" height="13" fill="#00ff00" />
<rect x="1000" y="602" width="1" height="51" fill="#000" />
<rect x="997" y="619" width="7" height="5" fill="#000" />
<rect x="998" y="620" width="5" height="3" fill="#00ff00" />
<rect x="1009" y="626" width="1" height="68" fill="#000" />
<rect x="1006" y="627" width="7" height="66" fill="#000" />
<rect x="1007" y="628" width="5" height="64" fill="#ff0000" />
<rect x="1018" y="528" width="1" height="164" fill="#000" />
<rect x="1015" y="534" width="7" height="159" fill="#000" />
<rect x="1016" y="535" width="5" height="157" fill="#00ff00" />
<rect x="1027" y="509" width="1" height="110" fill="#000" />
<rect x="1024" y="534" width="7" height="14" fill="#000" />
<rect x="1025" y="535" width="5" height="12" fill="#ff0000" />
<rect x="1036" y="510" width="1" height="60" fill="#000" />
<rect x="1033" y="511" width="7" height="34" fill="#000" />
<rect x="1034" y="512" width="5" height="32" fill="#ff0000" />
<rect x="1045" y="514" width="1" height="40" fill="#000" />
<rect x="1042" y="518" width="7" height="20" fill="#000" />
<rect x="1043" y="519" width="5" height="18" fill="#00ff00" />
<rect x="1054" y="522" width="1" height="141" fill="#000" />
<rect x="1051" y="534" width="7" height="7" fill="#000" />
<rect x="1052" y="535" width="5" height="5" fill="#ff0000" />
<rect x="1063" y="547" width="1" height="63" fill="#000" />
<rect x="1060" y="551" width="7" height="54" fill="#000" />
<rect x="1061" y="552" width="5" height="52" fill="#ff0000" />
<rect x="1072" y="554" width="1" height="66" fill="#000" />
<rect x="1069" y="605" width="7" height="9" fill="#000" />
<rect x="1070" y="606" width="5" height="7" fill="#ff0000" />
<rect x="1081" y="609" width="1" height="36" fill="#000" />
<rect x="1078" y="609" width="7" height="5" fill="#000" />
<rect x="1079" y="610" width="5" height="3" fill="#00ff00" />
<rect x="1090" y="557" width="1" height="47" fill="#000" />
<rect x="1087" y="573" width="7" height="18" fill="#000" />
<rect x="1088" y="574" width="5" height="16" fill="#00ff00" />
<rect x="1099" y="562" width="1" height="52" fill="#000" />
<rect x="1096" y="573" width="7" height="21" fill="#000" />
<rect x="1097" y="574" width="5" height="19" fill="#ff0000" />
<rect x="1108" y="530" width="1" height="63" fill="#000" />
<rect x="1105" y="555" width="7" height="39" fill="#000" />
<rect x="1106" y="556" width="5" height="37" fill="#00ff00" />
</g>
<polyline points="595,556.8 613,554.4 640,550.7 667,547.8 694,545.3 721,542.9 748,540.9 785,538.9 813,537 849,536.6 889.6,539.7 940,544.8 988,552.3 1000,553.7 1027,553.7 1054,554.3 1072,555.1 1090,556 1108,555.1" fill="none" stroke="#000" stroke-width="1.8" stroke-linejoin="round" stroke-linecap="round" />
<polyline points="590,461.9 598,462.3 604,463.6 613,469.7 622,485.7 631,494.3 640,507.8 649,516.3 658,524.9 667,532.3 676,538.4 685,545.8 694,556.8 703,567.9 712,574.5 721,581.4 730,587.5 739,592.4 748,597.3 757,603.5 766,610.4 775,615.9 784,622.1 793,633.6 802,644.4 811,649.7 820,655.1 829,656.5 838,659.7 847,664.5 856,671.2 865,675.5 874,683.4 883,692 892,702 901,709.8 910,714.6 919,714.6 928,714.6 937,713 946,713 955,713.6 964,716.2 973,716.8 982,713 991,703.5 1000,694.5 1009,684.2 1018,667.8 1027,652 1036,639 1045,625.7 1054,616.7 1063,612.4 1072,608.1 1081,602.4 1090,593.8 1099,585.2 1108,579.5" fill="none" stroke="#ff7c26" stroke-width="2" stroke-linejoin="round" stroke-linecap="round" clip-path="url(#cbr)"/>
<text x="593" y="817" font-family="Liberation Sans, sans-serif" font-size="8.6" font-weight="normal" fill="#222" text-anchor="start" textLength="95" lengthAdjust="spacingAndGlyphs" >Copyright © 2007 eSignal.</text>
<rect x="1119" y="461" width="1" height="361" fill="#000" shape-rendering="crispEdges"/>
<rect x="590" y="821" width="530" height="1" fill="#000" shape-rendering="crispEdges"/>
<text x="1120.2" y="474.5" font-family="Liberation Serif, serif" font-size="13.7" font-weight="bold" fill="#000" text-anchor="start" textLength="32" lengthAdjust="spacingAndGlyphs" >26.00</text>
<text x="1120.2" y="498.2" font-family="Liberation Serif, serif" font-size="13.7" font-weight="bold" fill="#000" text-anchor="start" textLength="32" lengthAdjust="spacingAndGlyphs" >25.00</text>
<text x="1120.2" y="527.4" font-family="Liberation Serif, serif" font-size="13.7" font-weight="bold" fill="#000" text-anchor="start" textLength="32" lengthAdjust="spacingAndGlyphs" >24.00</text>
<text x="1120.2" y="555.8" font-family="Liberation Serif, serif" font-size="13.7" font-weight="bold" fill="#000" text-anchor="start" textLength="32" lengthAdjust="spacingAndGlyphs" >23.00</text>
<text x="1120.2" y="616.4" font-family="Liberation Serif, serif" font-size="13.7" font-weight="bold" fill="#000" text-anchor="start" textLength="32" lengthAdjust="spacingAndGlyphs" >21.00</text>
<text x="1120.2" y="649.8" font-family="Liberation Serif, serif" font-size="13.7" font-weight="bold" fill="#000" text-anchor="start" textLength="32" lengthAdjust="spacingAndGlyphs" >20.00</text>
<text x="1120.2" y="685.1" font-family="Liberation Serif, serif" font-size="13.7" font-weight="bold" fill="#000" text-anchor="start" textLength="32" lengthAdjust="spacingAndGlyphs" >19.00</text>
<text x="1120.2" y="721.9" font-family="Liberation Serif, serif" font-size="13.7" font-weight="bold" fill="#000" text-anchor="start" textLength="32" lengthAdjust="spacingAndGlyphs" >18.00</text>
<text x="1120.2" y="759.3" font-family="Liberation Serif, serif" font-size="13.7" font-weight="bold" fill="#000" text-anchor="start" textLength="32" lengthAdjust="spacingAndGlyphs" >17.00</text>
<text x="1120.2" y="801.6" font-family="Liberation Serif, serif" font-size="13.7" font-weight="bold" fill="#000" text-anchor="start" textLength="32" lengthAdjust="spacingAndGlyphs" >16.00</text>
<rect x="1120" y="546" width="32" height="2" fill="#00e000" shape-rendering="crispEdges"/>
<rect x="1120" y="549" width="52.5" height="14.5" fill="#000" shape-rendering="crispEdges"/>
<text x="1121" y="560.5" font-family="Liberation Sans, sans-serif" font-size="13" font-weight="bold" fill="#e6e6e6" text-anchor="start" textLength="50.5" lengthAdjust="spacingAndGlyphs" >22.81605</text>
<rect x="1120" y="571" width="59" height="15.5" fill="#ff7c26" shape-rendering="crispEdges"/>
<text x="1121" y="583.5" font-family="Liberation Sans, sans-serif" font-size="13" font-weight="bold" fill="#e6e6e6" text-anchor="start" textLength="57" lengthAdjust="spacingAndGlyphs" >22.056154</text>
<text x="637.2" y="834.7" font-family="Liberation Serif, serif" font-size="13.7" font-weight="bold" fill="#000" text-anchor="middle" >07</text>
<text x="682.9" y="834.7" font-family="Liberation Serif, serif" font-size="13.7" font-weight="bold" fill="#000" text-anchor="middle" >14</text>
<text x="727.5" y="834.7" font-family="Liberation Serif, serif" font-size="13.7" font-weight="bold" fill="#000" text-anchor="middle" >21</text>
<text x="772.1" y="834.7" font-family="Liberation Serif, serif" font-size="13.7" font-weight="bold" fill="#000" text-anchor="middle" >28</text>
<text x="817" y="834.7" font-family="Liberation Serif, serif" font-size="13.7" font-weight="bold" fill="#000" text-anchor="middle" >05</text>
<text x="862.4" y="834.7" font-family="Liberation Serif, serif" font-size="13.7" font-weight="bold" fill="#000" text-anchor="middle" >12</text>
<text x="907" y="834.7" font-family="Liberation Serif, serif" font-size="13.7" font-weight="bold" fill="#000" text-anchor="middle" >19</text>
<text x="952.4" y="834.7" font-family="Liberation Serif, serif" font-size="13.7" font-weight="bold" fill="#000" text-anchor="middle" >27</text>
<text x="987.8" y="834.7" font-family="Liberation Serif, serif" font-size="13.7" font-weight="bold" fill="#000" text-anchor="middle" >02</text>
<text x="1033" y="834.7" font-family="Liberation Serif, serif" font-size="13.7" font-weight="bold" fill="#000" text-anchor="middle" >09</text>
<text x="1078.8" y="834.7" font-family="Liberation Serif, serif" font-size="13.7" font-weight="bold" fill="#000" text-anchor="middle" >16</text>
<text x="793.7" y="850.5" font-family="Liberation Sans, sans-serif" font-size="13" font-weight="bold" fill="#000" text-anchor="start" textLength="24.8" lengthAdjust="spacingAndGlyphs" >May</text>
<text x="982" y="850.5" font-family="Liberation Sans, sans-serif" font-size="13" font-weight="bold" fill="#000" text-anchor="start" textLength="23" lengthAdjust="spacingAndGlyphs" >Jun</text>
</g>
<rect x="6" y="854" width="576" height="1" fill="#fff" />
<rect x="589" y="854" width="597" height="1" fill="#fff" />
<rect x="581.5" y="2.5" width="5" height="856" fill="url(#bv)" />
<rect x="0" y="2.5" width="2.6" height="856" fill="#8696e4" />
<rect x="1.6" y="2" width="1" height="856" fill="#a39d86" />
<rect x="0" y="0" width="583" height="2.1" fill="#b6ae98" />
<rect x="0" y="1.9" width="583" height="0.7" fill="#8e886e" />
<rect x="583" y="0" width="605" height="1.4" fill="#e6e3d2" />
<rect x="583" y="1.4" width="605" height="1.5" fill="#8f8b74" />
</svg></body></html>
